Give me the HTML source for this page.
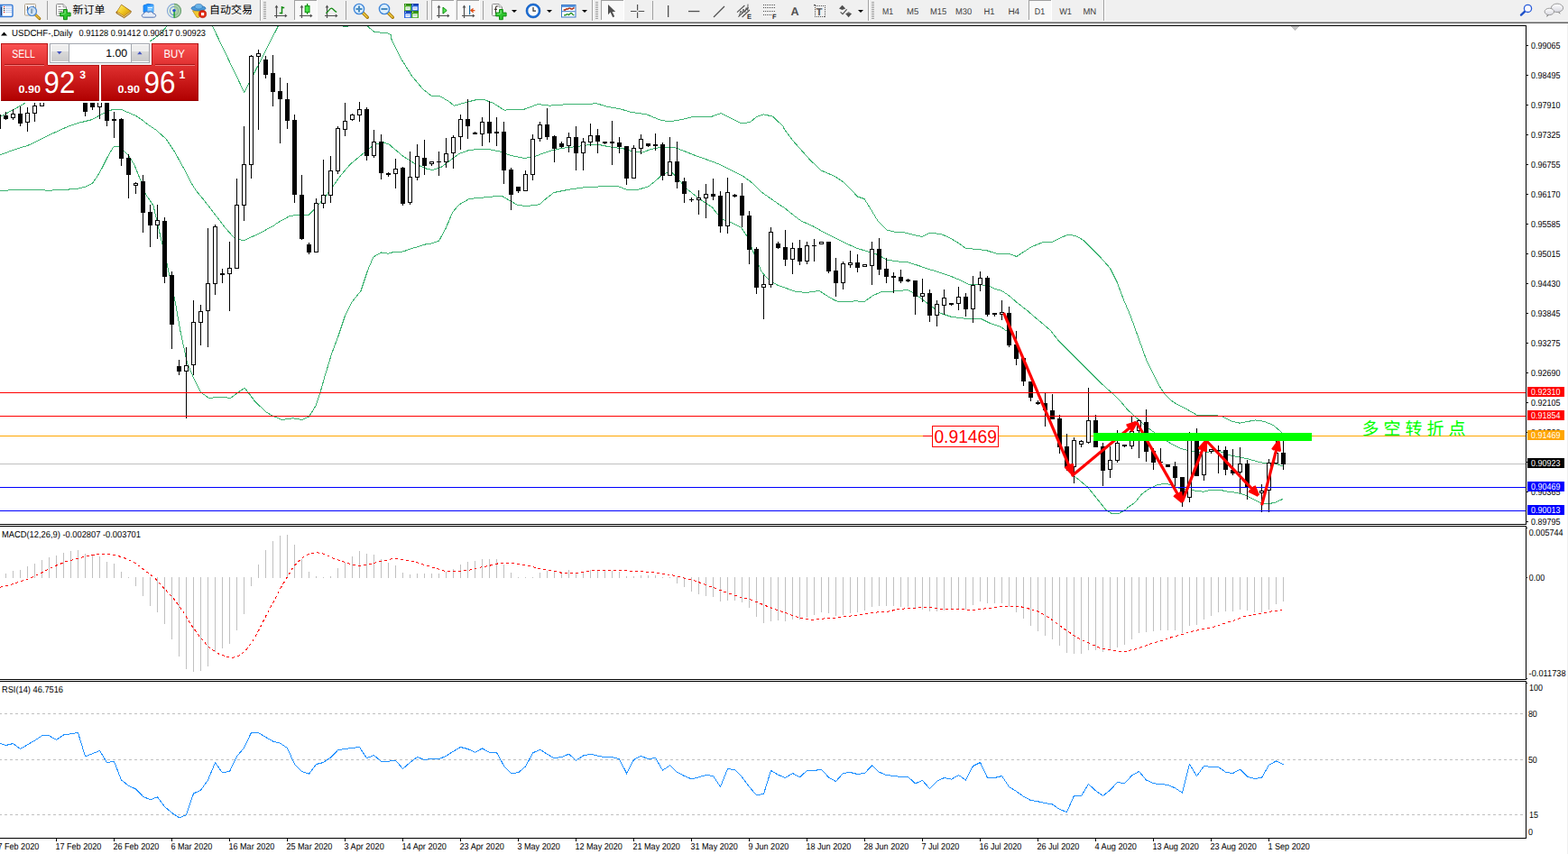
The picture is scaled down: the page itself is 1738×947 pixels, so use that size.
<!DOCTYPE html>
<html><head><meta charset="utf-8"><title>USDCHF-,Daily</title>
<style>
html,body{margin:0;padding:0;background:#fff;}
body{width:1738px;height:947px;overflow:hidden;position:relative;font-family:"Liberation Sans", sans-serif;}
svg{position:absolute;left:0;top:0;display:block}
text{font-family:"Liberation Sans", sans-serif;text-rendering:geometricPrecision;}
.t9{font-size:9px;fill:#000}
.tf{font-size:9.5px;fill:#404040}

</style></head><body>
<svg width="1738" height="947" viewBox="0 0 1738 947">
<defs>
<clipPath id="cm"><rect x="0" y="29" width="1691" height="552"/></clipPath>
<clipPath id="cmacd"><rect x="0" y="584" width="1691" height="169"/></clipPath>
<clipPath id="crsi"><rect x="0" y="756" width="1691" height="173"/></clipPath>
<linearGradient id="gred" x1="0" y1="0" x2="0" y2="1"><stop offset="0" stop-color="#fa5252"/><stop offset="0.38" stop-color="#e03030"/><stop offset="0.68" stop-color="#c81818"/><stop offset="1" stop-color="#b00000"/></linearGradient>
<linearGradient id="gbtn" x1="0" y1="0" x2="0" y2="1"><stop offset="0" stop-color="#dadada"/><stop offset="1" stop-color="#cacaca"/></linearGradient>
</defs>
<rect x="0" y="0" width="1738" height="947" fill="#fff"/>
<g id="toolbar" shape-rendering="crispEdges">
<rect x="0" y="0" width="1738" height="24" fill="#f0f0f0"/>
<rect x="0" y="23" width="1738" height="1" fill="#f6f6f6"/>
<rect x="0" y="24" width="1738" height="1" fill="#a0a0a0"/>
<rect x="0" y="25" width="1738" height="1" fill="#696969"/>
<rect x="0" y="26" width="1738" height="2" fill="#fff"/>
<rect x="1737" y="26" width="1" height="921" fill="#f0f0f0"/>
</g>
<g id="icons"><rect x="-1.5" y="5.5" width="15.5" height="13" rx="1.5" fill="#fff" stroke="#3a7cd6" stroke-width="1.5"/>
<rect x="0" y="6" width="2.6" height="12" fill="#4a86d8"/><rect x="1" y="8" width="1" height="9" fill="#223a70"/>
<rect x="4" y="7" width="1.2" height="1.2" fill="#e02020"/><rect x="6" y="7.3" width="7" height="0.8" fill="#a8c0f0"/>
<rect x="4" y="9" width="1.2" height="1.2" fill="#303830"/><rect x="6" y="9.3" width="7" height="0.8" fill="#a8c0f0"/>
<rect x="4" y="11" width="1.2" height="1.2" fill="#303830"/><rect x="6" y="11.3" width="7" height="0.8" fill="#a8c0f0"/>
<rect x="4" y="13" width="1.2" height="1.2" fill="#e02020"/><rect x="6" y="13.3" width="7" height="0.8" fill="#a8c0f0"/>
<rect x="27.5" y="4.5" width="12" height="12.5" rx="1" fill="#fbfbfb" stroke="#b0a088" stroke-width="1"/>
<path d="M30.5,7 v7 M29.5,11 h2 M37,6.5 v6 M36,8 h2" stroke="#505050" stroke-width="1" fill="none"/>
<line x1="39.5" y1="16.5" x2="43.8" y2="20.6" stroke="#a87808" stroke-width="3" stroke-linecap="round"/><line x1="39.8" y1="16.8" x2="43.5" y2="20.3" stroke="#e8c040" stroke-width="1.4" stroke-linecap="round"/>
<circle cx="35.5" cy="12.5" r="5" fill="#cfe4f8" fill-opacity="0.85" stroke="#4c8ad8" stroke-width="1.2"/>
<rect x="34" y="9.5" width="2.2" height="5.5" fill="#88a4c0"/>
<rect x="52" y="1" width="1" height="21" fill="#a0a0a0" shape-rendering="crispEdges"/>
<path d="M63.5,4.5 H70 L73.5,8 V17.5 H63.5 Q62.5,17.5 62.5,16.5 V5.5 Q62.5,4.5 63.5,4.5 Z" fill="#fff" stroke="#8a8a8a" stroke-width="1"/><path d="M70,4.5 V8 H73.5" fill="#e8e8e8" stroke="#8a8a8a" stroke-width="0.8"/>
<path d="M64.5,7.5 h3 M64.5,10.5 h6 M64.5,12.5 h5 M64.5,14.5 h3" stroke="#909090" stroke-width="1" fill="none"/>
<path d="M70.5,10.5 h3.8 v3.6 h3.8 v3.8 h-3.8 v3.8 h-3.8 v-3.8 h-3.8 v-3.8 h3.8 Z" fill="#2fc52f" stroke="#0f8a0f" stroke-width="1"/><path d="M71.5,11.5 h1.2 v3.8 h-1.2Z M67.80000000000001,15.1 h3.7 v1.0 h-3.7Z" fill="#8df08d" opacity="0.8"/>
<text x="80.4" y="15.4" font-size="12" fill="#000" textLength="36" lengthAdjust="spacingAndGlyphs" style="font-family:'Liberation Sans','Noto Sans CJK SC',sans-serif">新订单</text>
<defs><linearGradient id="gbook" x1="0" y1="0" x2="1" y2="1"><stop offset="0" stop-color="#fff27a"/><stop offset="0.5" stop-color="#f2c820"/><stop offset="1" stop-color="#c88c10"/></linearGradient></defs>
<path d="M134.6,5.2 L145.4,12.6 L144.6,14.6 L137.6,19.8 L129,14.6 C128.4,13.4 129.4,12.6 130.2,12.2 Z" fill="#b87a10" stroke="#8c5a08" stroke-width="0.8" stroke-linejoin="round"/>
<path d="M134.6,5.6 L144.6,12.6 L137.4,17.6 L130,12.8 Z" fill="url(#gbook)"/>
<path d="M130,14 L137.5,18.6 L144.6,13.6" fill="none" stroke="#f6e8b0" stroke-width="0.8"/>
<path d="M159,6 L164,4.3 L170,5.2 V13.5 H159 Z" fill="#1e90ff" stroke="#1878e0" stroke-width="0.8"/>
<path d="M163,7 L170,5.8 V13.5 H163 Z" fill="#5ab4ff"/><rect x="164" y="8" width="5" height="1.2" fill="#eaf6ff"/><rect x="164" y="10.4" width="4" height="1" fill="#d0e8ff"/>
<path d="M159.5,19.2 C156.5,19.2 156.5,15.4 159.6,15.2 C159.8,12.6 163.6,12.2 164.6,14 C166,12.2 169.4,12.8 169.6,15 C173.4,14.8 173.8,19.2 170.4,19.2 Z" fill="#e8eef8" stroke="#5070b0" stroke-width="1"/>
<circle cx="193" cy="12" r="7.6" fill="#dfeee0" stroke="none"/>
<path d="M193,12 L193,19.8 A7.8,7.8 0 0 0 193,4.2 Z" fill="#9cc8a0" opacity="0.8"/>
<path d="M193,4.4 A7.6,7.6 0 0 0 193,19.6" fill="none" stroke="#4a78d0" stroke-opacity="0.6" stroke-width="1.1"/><path d="M193,4.4 A7.6,7.6 0 0 1 193,19.6" fill="none" stroke="#6aa070" stroke-width="1.1"/>
<path d="M193,7.4 A4.6,4.6 0 0 0 193,16.6" fill="none" stroke="#4a78d0" stroke-opacity="0.75" stroke-width="1.1"/><path d="M193,7.4 A4.6,4.6 0 0 1 193,16.6" fill="none" stroke="#8ab890" stroke-width="1.1"/>
<rect x="192.4" y="12" width="1.4" height="7.6" fill="#18a028"/><circle cx="193" cy="11.6" r="1.7" fill="#2050d0"/>
<path d="M213.4,11.8 L226.2,11.8 L226,14 L220,19.6 L218,19 Z" fill="#f2c830" stroke="#c09018" stroke-width="0.8"/>
<ellipse cx="220" cy="9.2" rx="8" ry="2.7" fill="#4a9ad8" stroke="#2a6cb0" stroke-width="0.8"/><ellipse cx="220.2" cy="7.2" rx="4.2" ry="2.8" fill="#6ab4e8" stroke="#2a6cb0" stroke-width="0.6"/>
<circle cx="224.6" cy="15.6" r="4.1" fill="#e02810" stroke="#b01808" stroke-width="0.6"/><rect x="223" y="14" width="3.2" height="3.2" fill="#fff"/>
<text x="232" y="15.4" font-size="12" fill="#000" textLength="48" lengthAdjust="spacingAndGlyphs" style="font-family:'Liberation Sans','Noto Sans CJK SC',sans-serif">自动交易</text>
<rect x="288" y="0" width="1" height="23" fill="#a0a0a0" shape-rendering="crispEdges"/><rect x="289" y="0" width="1" height="23" fill="#fff" shape-rendering="crispEdges"/><rect x="292" y="2" width="3" height="1" fill="#a0a0a0" shape-rendering="crispEdges"/><rect x="292" y="4" width="3" height="1" fill="#a0a0a0" shape-rendering="crispEdges"/><rect x="292" y="6" width="3" height="1" fill="#a0a0a0" shape-rendering="crispEdges"/><rect x="292" y="8" width="3" height="1" fill="#a0a0a0" shape-rendering="crispEdges"/><rect x="292" y="10" width="3" height="1" fill="#a0a0a0" shape-rendering="crispEdges"/><rect x="292" y="12" width="3" height="1" fill="#a0a0a0" shape-rendering="crispEdges"/><rect x="292" y="14" width="3" height="1" fill="#a0a0a0" shape-rendering="crispEdges"/><rect x="292" y="16" width="3" height="1" fill="#a0a0a0" shape-rendering="crispEdges"/><rect x="292" y="18" width="3" height="1" fill="#a0a0a0" shape-rendering="crispEdges"/><rect x="292" y="20" width="3" height="1" fill="#a0a0a0" shape-rendering="crispEdges"/>
<g stroke="#505050" stroke-width="1.2" fill="none"><path d="M306.5,7 V20 M304,17.5 H317"/></g><polygon points="306.5,5.5 304.6,8.5 308.4,8.5" fill="#505050"/><polygon points="318.5,17.5 315.8,15.6 315.8,19.4" fill="#505050"/>
<path d="M312.5,7 V15.6 M312.5,8.4 H315.2 M312.5,14.6 H309.8" stroke="#128a12" stroke-width="1.5" fill="none"/>
<g shape-rendering="crispEdges"><rect x="326" y="0" width="25" height="22" fill="#f9f9f9"/><rect x="326" y="0" width="25" height="1" fill="#a0a0a0"/><rect x="326" y="0" width="1" height="22" fill="#a0a0a0"/><rect x="351" y="0" width="1" height="23" fill="#fff"/><rect x="326" y="22" width="26" height="1" fill="#fff"/></g>
<g stroke="#505050" stroke-width="1.2" fill="none"><path d="M334.5,7 V20 M332,17.5 H345"/></g><polygon points="334.5,5.5 332.6,8.5 336.4,8.5" fill="#505050"/><polygon points="346.5,17.5 343.8,15.6 343.8,19.4" fill="#505050"/>
<rect x="340" y="4" width="1.2" height="11.8" fill="#0c8c0c"/><rect x="338.2" y="6.6" width="4.8" height="7" fill="#48e448" stroke="#0c8c0c" stroke-width="1"/>
<g stroke="#505050" stroke-width="1.2" fill="none"><path d="M362.5,7 V20 M360,17.5 H373"/></g><polygon points="362.5,5.5 360.6,8.5 364.4,8.5" fill="#505050"/><polygon points="374.5,17.5 371.8,15.6 371.8,19.4" fill="#505050"/>
<path d="M361.4,14.6 C364,13 365.4,9.2 367.4,9.2 C369.4,9.2 370.4,12.6 373.2,13.4" stroke="#128a12" stroke-width="1.3" fill="none"/>
<rect x="383" y="1" width="1" height="21" fill="#a0a0a0" shape-rendering="crispEdges"/>
<line x1="402" y1="14" x2="407.3" y2="19.3" stroke="#a87808" stroke-width="3.4" stroke-linecap="round"/><line x1="402.3" y1="14.3" x2="407" y2="19" stroke="#f0cc40" stroke-width="1.6" stroke-linecap="round"/><circle cx="398" cy="10" r="5.6" fill="#dcefff" stroke="#3f86d8" stroke-width="1.4"/><rect x="394.5" y="9" width="7" height="2" fill="#4a8cc0"/><rect x="397" y="6.5" width="2" height="7" fill="#4a8cc0"/>
<line x1="430" y1="14" x2="435.3" y2="19.3" stroke="#a87808" stroke-width="3.4" stroke-linecap="round"/><line x1="430.3" y1="14.3" x2="435" y2="19" stroke="#f0cc40" stroke-width="1.6" stroke-linecap="round"/><circle cx="426" cy="10" r="5.6" fill="#dcefff" stroke="#3f86d8" stroke-width="1.4"/><rect x="422.5" y="9" width="7" height="2" fill="#4a8cc0"/>
<rect x="448" y="4" width="8" height="8" fill="#4cae24"/><rect x="448" y="4" width="8" height="2.2" fill="#2f8a10"/><rect x="449.4" y="7.4" width="5.2" height="3.8" fill="#f4f8ff"/><rect x="450.4" y="8.6" width="3.2" height="0.9" fill="#4cae24" opacity="0.6"/><rect x="449" y="4.8" width="1" height="1" fill="#dfe"/>
<rect x="456" y="4" width="8" height="8" fill="#2a64e0"/><rect x="456" y="4" width="8" height="2.2" fill="#1440b0"/><rect x="457.4" y="7.4" width="5.2" height="3.8" fill="#f4f8ff"/><rect x="458.4" y="8.6" width="3.2" height="0.9" fill="#2a64e0" opacity="0.6"/><rect x="457" y="4.8" width="1" height="1" fill="#dfe"/>
<rect x="448" y="12" width="8" height="8" fill="#2a64e0"/><rect x="448" y="12" width="8" height="2.2" fill="#1440b0"/><rect x="449.4" y="15.4" width="5.2" height="3.8" fill="#f4f8ff"/><rect x="450.4" y="16.6" width="3.2" height="0.9" fill="#2a64e0" opacity="0.6"/><rect x="449" y="12.8" width="1" height="1" fill="#dfe"/>
<rect x="456" y="12" width="8" height="8" fill="#4cae24"/><rect x="456" y="12" width="8" height="2.2" fill="#2f8a10"/><rect x="457.4" y="15.4" width="5.2" height="3.8" fill="#f4f8ff"/><rect x="458.4" y="16.6" width="3.2" height="0.9" fill="#4cae24" opacity="0.6"/><rect x="457" y="12.8" width="1" height="1" fill="#dfe"/>
<rect x="473" y="1" width="1" height="21" fill="#a0a0a0" shape-rendering="crispEdges"/>
<g shape-rendering="crispEdges"><rect x="478" y="0" width="25" height="22" fill="#f9f9f9"/><rect x="478" y="0" width="25" height="1" fill="#a0a0a0"/><rect x="478" y="0" width="1" height="22" fill="#a0a0a0"/><rect x="503" y="0" width="1" height="23" fill="#fff"/><rect x="478" y="22" width="26" height="1" fill="#fff"/></g>
<g stroke="#505050" stroke-width="1.2" fill="none"><path d="M486.5,7 V20 M484,17.5 H497"/></g><polygon points="486.5,5.5 484.6,8.5 488.4,8.5" fill="#505050"/><polygon points="498.5,17.5 495.8,15.6 495.8,19.4" fill="#505050"/>
<polygon points="491,8 495.2,11.6 491,15.2" fill="#58e858" stroke="#0c8c0c" stroke-width="1" stroke-linejoin="round"/>
<g shape-rendering="crispEdges"><rect x="506" y="0" width="25" height="22" fill="#f9f9f9"/><rect x="506" y="0" width="25" height="1" fill="#a0a0a0"/><rect x="506" y="0" width="1" height="22" fill="#a0a0a0"/><rect x="531" y="0" width="1" height="23" fill="#fff"/><rect x="506" y="22" width="26" height="1" fill="#fff"/></g>
<g stroke="#505050" stroke-width="1.2" fill="none"><path d="M514.5,7 V20 M512,17.5 H525"/></g><polygon points="514.5,5.5 512.6,8.5 516.4,8.5" fill="#505050"/><polygon points="526.5,17.5 523.8,15.6 523.8,19.4" fill="#505050"/>
<rect x="520" y="6" width="1.2" height="10.2" fill="#1a6aa0"/><path d="M526.4,11.6 H522 M524.6,9.4 L522,11.6 L524.6,13.8" stroke="#e04a10" stroke-width="1.3" fill="none"/>
<rect x="535" y="1" width="1" height="21" fill="#a0a0a0" shape-rendering="crispEdges"/>
<path d="M546.5,4.5 H553 L556.5,8 V17.5 H546.5 Q545.5,17.5 545.5,16.5 V5.5 Q545.5,4.5 546.5,4.5 Z" fill="#fff" stroke="#8a8a8a" stroke-width="1"/><path d="M553,4.5 V8 H556.5" fill="#e8e8e8" stroke="#8a8a8a" stroke-width="0.8"/>
<path d="M551.8,7 C549.6,6.4 549.4,8 549.4,9.6 V15 M548,10.4 H551" stroke="#403830" stroke-width="1.1" fill="none"/>
<path d="M553.5,10.5 h3.8 v3.6 h3.8 v3.8 h-3.8 v3.8 h-3.8 v-3.8 h-3.8 v-3.8 h3.8 Z" fill="#2fc52f" stroke="#0f8a0f" stroke-width="1"/><path d="M554.5,11.5 h1.2 v3.8 h-1.2Z M550.8,15.1 h3.7 v1.0 h-3.7Z" fill="#8df08d" opacity="0.8"/>
<polygon points="567,11 573,11 570,14" fill="#000"/>
<circle cx="591" cy="12" r="6.9" fill="#fdfdfd" stroke="#1a6cd4" stroke-width="2.3"/>
<circle cx="591" cy="12" r="8" fill="none" stroke="#0c4ca8" stroke-width="0.5"/>
<path d="M591,8 V12.2 H594" stroke="#303030" stroke-width="1.2" fill="none"/>
<path d="M591,6.4 v0.8 M591,17 v0.8 M585.6,12 h0.8 M596,12 h0.8" stroke="#8aa" stroke-width="0.8"/>
<polygon points="606,11 612,11 609,14" fill="#000"/>
<rect x="622.5" y="5.5" width="15.5" height="13.5" fill="#fff" stroke="#3a78c8" stroke-width="1"/><rect x="623" y="6" width="14.5" height="2" fill="#5a98e0"/><rect x="623" y="12.2" width="14.5" height="1" fill="#3a78c8"/>
<path d="M624.6,11 H626.6 L627.6,10 H629.6 L630.6,9.2 H632 L633,10 H634.6 L635.6,9 H636.6" stroke="#a42408" stroke-width="1.3" fill="none"/>
<path d="M625,16.8 H627 L628,15.8 H629.6 L630.4,16.6 L632.6,14.6 H633.6 L635.4,16.6 H636.4" stroke="#188a18" stroke-width="1.3" fill="none"/>
<polygon points="645,11 651,11 648,14" fill="#000"/>
<rect x="656" y="0" width="1" height="23" fill="#a0a0a0" shape-rendering="crispEdges"/><rect x="657" y="0" width="1" height="23" fill="#fff" shape-rendering="crispEdges"/><rect x="660" y="2" width="3" height="1" fill="#a0a0a0" shape-rendering="crispEdges"/><rect x="660" y="4" width="3" height="1" fill="#a0a0a0" shape-rendering="crispEdges"/><rect x="660" y="6" width="3" height="1" fill="#a0a0a0" shape-rendering="crispEdges"/><rect x="660" y="8" width="3" height="1" fill="#a0a0a0" shape-rendering="crispEdges"/><rect x="660" y="10" width="3" height="1" fill="#a0a0a0" shape-rendering="crispEdges"/><rect x="660" y="12" width="3" height="1" fill="#a0a0a0" shape-rendering="crispEdges"/><rect x="660" y="14" width="3" height="1" fill="#a0a0a0" shape-rendering="crispEdges"/><rect x="660" y="16" width="3" height="1" fill="#a0a0a0" shape-rendering="crispEdges"/><rect x="660" y="18" width="3" height="1" fill="#a0a0a0" shape-rendering="crispEdges"/><rect x="660" y="20" width="3" height="1" fill="#a0a0a0" shape-rendering="crispEdges"/>
<g shape-rendering="crispEdges"><rect x="666" y="0" width="25" height="22" fill="#f9f9f9"/><rect x="666" y="0" width="25" height="1" fill="#a0a0a0"/><rect x="666" y="0" width="1" height="22" fill="#a0a0a0"/><rect x="691" y="0" width="1" height="23" fill="#fff"/><rect x="666" y="22" width="26" height="1" fill="#fff"/></g>
<polygon points="674,5 674,16.2 676.6,13.6 679.2,19.2 681.2,18.2 678.6,13 682.2,13" fill="#505050"/>
<path d="M699,12.5 H705.6 M707.6,12.5 H714.2 M706.6,5 V11.4 M706.6,13.6 V20" stroke="#505050" stroke-width="1.2" fill="none"/>
<rect x="723" y="1" width="1" height="21" fill="#a0a0a0" shape-rendering="crispEdges"/>
<rect x="740" y="6" width="1.3" height="13" fill="#505050"/>
<rect x="763" y="11.9" width="12.4" height="1.3" fill="#505050"/>
<line x1="791" y1="19" x2="803" y2="7" stroke="#505050" stroke-width="1.2"/>
<path d="M817,13.6 L825.4,6 M818.4,18.6 L829.6,8.4 M822.6,19 L831,11" stroke="#505050" stroke-width="1.1" fill="none"/>
<path d="M819.6,17 L821,12 L822.6,15 L824,10 L825.8,13.6 L827.2,8.6 L828.8,11.6 L829,4.6" stroke="#505050" stroke-width="0.9" fill="none"/>
<text x="828" y="21" font-size="7.5" font-weight="bold" fill="#303030">E</text>
<line x1="846" y1="5.5" x2="860" y2="5.5" stroke="#505050" stroke-width="1" stroke-dasharray="1 1" shape-rendering="crispEdges"/>
<line x1="846" y1="8.5" x2="860" y2="8.5" stroke="#505050" stroke-width="1" stroke-dasharray="1 1" shape-rendering="crispEdges"/>
<line x1="846" y1="12.5" x2="860" y2="12.5" stroke="#505050" stroke-width="1" stroke-dasharray="1 1" shape-rendering="crispEdges"/>
<line x1="846" y1="16.5" x2="856" y2="16.5" stroke="#505050" stroke-width="1" stroke-dasharray="1 1" shape-rendering="crispEdges"/>
<text x="856" y="21" font-size="7.5" font-weight="bold" fill="#303030">F</text>
<text x="876.4" y="17.2" font-size="12.6" font-weight="bold" fill="#505050">A</text>
<rect x="903.5" y="6.5" width="11" height="12" fill="none" stroke="#505050" stroke-width="1" stroke-dasharray="1 1" shape-rendering="crispEdges"/><rect x="902" y="5" width="2" height="1.4" fill="#505050"/>
<text x="904.6" y="16.8" font-size="11.4" font-weight="bold" fill="#505050">T</text>
<polygon points="930,9.4 933.6,5.8 937.2,9.4 933.6,11" fill="#505050"/><polygon points="937,15 944.2,15 940.6,19.2" fill="#505050"/><polygon points="937.6,14.8 940.6,13.2 943.6,14.8" fill="#505050"/>
<path d="M931.6,13.4 L934,15.6 L938.6,10.4" stroke="#505050" stroke-width="1.2" fill="none"/>
<polygon points="951,11 957,11 954,14" fill="#000"/>
<rect x="962" y="0" width="1" height="23" fill="#a0a0a0" shape-rendering="crispEdges"/><rect x="963" y="0" width="1" height="23" fill="#fff" shape-rendering="crispEdges"/><rect x="966" y="2" width="3" height="1" fill="#a0a0a0" shape-rendering="crispEdges"/><rect x="966" y="4" width="3" height="1" fill="#a0a0a0" shape-rendering="crispEdges"/><rect x="966" y="6" width="3" height="1" fill="#a0a0a0" shape-rendering="crispEdges"/><rect x="966" y="8" width="3" height="1" fill="#a0a0a0" shape-rendering="crispEdges"/><rect x="966" y="10" width="3" height="1" fill="#a0a0a0" shape-rendering="crispEdges"/><rect x="966" y="12" width="3" height="1" fill="#a0a0a0" shape-rendering="crispEdges"/><rect x="966" y="14" width="3" height="1" fill="#a0a0a0" shape-rendering="crispEdges"/><rect x="966" y="16" width="3" height="1" fill="#a0a0a0" shape-rendering="crispEdges"/><rect x="966" y="18" width="3" height="1" fill="#a0a0a0" shape-rendering="crispEdges"/><rect x="966" y="20" width="3" height="1" fill="#a0a0a0" shape-rendering="crispEdges"/>
<g shape-rendering="crispEdges"><rect x="1140" y="0" width="25" height="22" fill="#f9f9f9"/><rect x="1140" y="0" width="25" height="1" fill="#a0a0a0"/><rect x="1140" y="0" width="1" height="22" fill="#a0a0a0"/><rect x="1165" y="0" width="1" height="23" fill="#fff"/><rect x="1140" y="22" width="26" height="1" fill="#fff"/></g>
<text x="978" y="16" font-size="9.8" fill="#404040" textLength="12.2" lengthAdjust="spacingAndGlyphs">M1</text>
<text x="1005" y="16" font-size="9.8" fill="#404040" textLength="13.2" lengthAdjust="spacingAndGlyphs">M5</text>
<text x="1031" y="16" font-size="9.8" fill="#404040" textLength="18.2" lengthAdjust="spacingAndGlyphs">M15</text>
<text x="1059" y="16" font-size="9.8" fill="#404040" textLength="18.2" lengthAdjust="spacingAndGlyphs">M30</text>
<text x="1090.4" y="16" font-size="9.8" fill="#404040" textLength="12" lengthAdjust="spacingAndGlyphs">H1</text>
<text x="1117.4" y="16" font-size="9.8" fill="#404040" textLength="12.8" lengthAdjust="spacingAndGlyphs">H4</text>
<text x="1146.8" y="16" font-size="9.8" fill="#404040" textLength="11.4" lengthAdjust="spacingAndGlyphs">D1</text>
<text x="1174.2" y="16" font-size="9.8" fill="#404040" textLength="13.8" lengthAdjust="spacingAndGlyphs">W1</text>
<text x="1200.4" y="16" font-size="9.8" fill="#404040" textLength="14.8" lengthAdjust="spacingAndGlyphs">MN</text>
<rect x="1223" y="0" width="1" height="23" fill="#a0a0a0" shape-rendering="crispEdges"/><rect x="1224" y="0" width="1" height="23" fill="#fff" shape-rendering="crispEdges"/>
<line x1="1686" y1="16.6" x2="1690" y2="12.8" stroke="#1e50c8" stroke-width="2.4" stroke-linecap="round"/><circle cx="1693.5" cy="9.4" r="4.1" fill="#f8f8ff" stroke="#2a5cd8" stroke-width="1.3"/>
<defs><linearGradient id="gbub" x1="0" y1="0" x2="0" y2="1"><stop offset="0" stop-color="#ffffff"/><stop offset="1" stop-color="#d8d8e0"/></linearGradient></defs>
<path d="M1728.6,13.4 L1729.8,15.8 L1726.6,13.6 Z" fill="#707070"/><ellipse cx="1726" cy="8.8" rx="6.6" ry="4.7" fill="url(#gbub)" stroke="#8e8e8e" stroke-width="0.9"/>
<path d="M1714.8,16.4 L1714.2,18.9 L1717,16.6 Z" fill="#707070"/><ellipse cx="1717.3" cy="12.9" rx="5.2" ry="3.7" fill="url(#gbub)" stroke="#8e8e8e" stroke-width="0.9"/></g>
<g id="main" shape-rendering="crispEdges">
<rect x="0" y="483" width="1691" height="1" fill="#ffa500"/>
<rect x="0" y="514" width="1691" height="1" fill="#c0c0c0"/>
<g clip-path="url(#cm)">
<polyline points="0.0,129.4 5.0,126.9 13.0,122.5 20.0,118.8 26.9,114.8 60.0,96.0 100.0,78.0 140.0,60.0 166.0,46.0 176.0,39.2 186.0,28.0 196.0,10.0 215.0,5.0 235.0,28.0 270.8,102.5 308.8,28.0 330.0,5.0 370.0,20.0 380.0,29.0 386.0,29.0 396.0,20.0 407.5,29.2 415.0,35.5 430.0,36.8 433.8,39.2 434.0,43.5 444.0,64.2 456.5,84.2 469.0,99.2 479.0,106.8 487.8,106.8 496.5,111.8 503.5,117.2 514.0,114.2 526.5,111.0 536.5,110.5 546.5,114.2 559.0,122.2 569.0,121.0 581.5,121.0 596.5,115.5 609.0,117.2 624.0,116.0 646.5,115.5 661.5,114.8 674.0,118.5 686.5,120.5 699.0,124.2 716.5,126.8 731.5,133.0 741.5,134.8 756.5,132.5 769.0,129.2 789.0,129.2 799.0,125.5 809.0,130.5 821.5,136.8 831.5,135.5 839.0,129.2 846.5,126.8 856.5,129.2 868.5,140.5 868.0,141.2 878.0,155.0 888.0,166.2 898.0,177.5 910.5,189.2 925.5,195.5 935.5,202.5 943.0,210.0 950.5,218.0 958.0,220.5 965.5,232.5 973.0,245.0 983.0,255.0 993.0,257.5 1003.0,258.0 1013.0,260.5 1021.8,262.5 1030.5,258.2 1043.0,259.5 1053.0,263.8 1063.0,270.0 1070.5,275.5 1080.5,276.2 1093.0,277.5 1103.0,280.8 1110.5,282.0 1118.0,281.2 1126.8,284.5 1135.5,278.8 1143.0,273.8 1155.5,268.8 1166.8,268.2 1175.5,263.8 1183.0,260.5 1191.8,261.2 1200.5,266.2 1210.5,276.2 1220.5,286.2 1230.5,297.5 1238.0,312.5 1245.5,332.5 1253.0,350.0 1271.0,400.0 1278.7,415.3 1285.4,428.7 1291.1,437.3 1297.8,444.0 1305.4,448.8 1315.0,453.5 1326.5,460.2 1346.6,460.2 1355.2,462.1 1364.7,466.9 1374.3,469.2 1383.8,467.3 1391.5,466.0 1401.1,467.3 1410.6,471.1 1418.3,477.4 1422.1,481.3" fill="none" stroke="#3cb371" stroke-width="1"/>
<polyline points="0.0,171.9 15.0,166.2 31.2,161.2 43.8,155.0 53.8,150.0 66.2,144.4 77.5,139.4 87.5,136.2 95.0,134.4 102.5,132.5 110.0,128.1 116.2,125.0 122.5,122.2 127.5,121.2 135.0,121.5 141.2,124.4 150.0,128.1 157.5,133.1 165.0,138.8 172.5,143.8 178.8,149.4 183.8,153.8 188.8,161.2 193.8,168.8 200.0,180.0 206.2,191.2 212.5,203.8 217.2,211.2 225.0,220.5 250.0,253.0 260.0,264.2 270.0,266.8 287.5,258.8 303.8,250.0 306.9,247.5 320.4,239.9 328.9,238.2 342.4,238.2 349.2,231.4 361.0,217.9 369.4,206.0 377.9,194.2 388.0,182.4 398.2,173.9 408.3,165.5 415.0,160.4 425.2,157.9 432.0,160.4 434.0,162.5 446.5,173.0 459.0,181.0 471.5,186.8 479.0,188.5 489.0,185.5 499.0,178.0 509.0,170.5 519.0,166.8 529.0,165.5 541.5,165.5 554.0,168.0 566.5,172.5 581.5,175.5 594.0,173.0 609.0,167.5 624.0,164.2 639.0,162.5 654.0,160.5 664.0,160.5 676.5,163.0 691.5,165.0 701.5,168.0 711.5,169.2 721.5,165.5 734.0,163.0 746.5,163.0 756.5,166.8 769.0,171.8 784.0,177.2 796.5,181.8 809.0,188.0 824.0,195.5 834.0,203.0 844.0,213.0 856.5,221.8 868.5,230.0 868.0,229.2 878.0,237.5 888.0,245.0 900.5,250.5 913.0,257.5 925.5,263.8 938.0,270.0 950.5,275.5 963.0,279.2 973.0,282.5 983.0,288.0 995.5,290.0 1005.5,290.5 1018.0,294.5 1030.5,298.8 1043.0,302.5 1055.5,307.0 1065.5,311.2 1073.0,315.0 1085.5,315.5 1095.5,316.8 1103.0,320.5 1110.5,322.5 1118.0,327.5 1128.0,336.2 1138.0,343.8 1148.0,352.5 1155.5,358.8 1164.2,366.2 1173.0,377.5 1185.5,390.0 1198.0,402.5 1210.5,415.0 1220.5,425.0 1233.0,436.2 1243.0,446.2 1250.0,454.5 1261.5,465.0 1271.0,473.6 1280.6,480.3 1297.8,491.8 1309.3,497.5 1316.0,499.4 1336.0,502.3 1341.8,500.4 1351.3,500.4 1364.7,505.2 1383.8,509.0 1397.2,512.8 1406.8,513.8 1414.4,514.3 1422.1,517.0" fill="none" stroke="#3cb371" stroke-width="1"/>
<polyline points="0.0,211.9 18.8,210.0 37.5,210.0 52.5,211.2 70.0,210.6 87.5,209.0 95.0,206.9 102.5,203.1 107.5,196.2 112.5,187.5 118.8,175.0 123.8,166.2 126.2,162.5 131.2,162.1 136.2,166.2 142.5,172.5 148.8,182.5 153.8,195.0 157.5,203.8 161.2,215.0 170.0,228.0 175.0,250.0 185.0,292.5 193.8,332.5 200.0,367.5 207.5,402.5 215.0,420.0 222.5,435.0 231.2,441.2 250.0,440.5 255.0,441.8 262.5,436.2 271.2,430.0 275.0,435.0 282.5,445.0 295.0,457.0 302.5,461.2 312.5,465.5 325.0,463.8 335.0,465.5 342.5,462.0 350.0,450.0 355.0,435.0 360.0,417.5 367.5,392.5 375.0,372.5 382.5,350.0 390.0,335.0 400.0,322.5 407.5,300.0 413.8,285.0 422.5,280.0 430.0,281.2 434.5,280.0 446.5,279.0 459.0,274.8 471.5,271.0 479.0,269.8 486.5,267.2 494.0,253.5 499.5,241.0 494.0,253.0 501.5,235.5 509.0,226.8 520.2,220.5 534.0,219.2 546.5,218.0 556.5,217.5 564.0,221.8 574.0,227.5 584.0,228.5 597.8,226.8 606.5,219.2 614.0,213.5 629.0,210.5 646.5,208.0 666.5,206.8 684.0,206.2 695.2,210.5 706.5,210.5 719.0,206.8 726.5,200.5 732.8,195.0 739.5,191.2 744.5,191.2 749.5,196.2 762.0,210.0 774.5,220.0 789.5,230.0 794.0,236.0 801.5,243.5 811.5,247.2 821.5,252.2 829.0,263.5 836.5,283.5 844.0,301.0 851.5,309.8 861.5,316.0 868.5,318.5 880.5,323.0 893.0,324.5 908.0,322.5 918.0,328.8 926.8,333.8 935.5,335.0 948.0,333.8 958.0,334.5 968.0,327.5 978.0,323.2 988.0,323.2 998.0,322.5 1005.5,321.2 1013.0,325.0 1023.0,332.5 1033.0,340.0 1043.0,347.5 1054.2,351.2 1068.0,353.0 1088.0,353.8 1098.0,358.8 1109.2,362.5 1116.5,367.5 1121.5,368.5 1140.0,411.5 1160.0,458.2 1180.0,505.0 1187.5,522.5 1190.8,528.0 1205.5,540.0 1215.5,552.5 1225.5,565.0 1233.0,570.0 1240.5,569.2 1248.0,565.0 1250.0,562.5 1257.6,557.7 1265.3,548.2 1272.9,542.4 1282.5,537.7 1292.1,536.1 1299.7,538.6 1307.4,541.5 1315.0,542.4 1326.5,544.4 1334.1,545.3 1341.8,543.4 1351.3,543.0 1360.9,545.3 1370.5,546.3 1380.0,548.8 1387.7,553.0 1397.2,557.7 1406.8,558.7 1414.4,556.8 1422.1,553.3" fill="none" stroke="#3cb371" stroke-width="1"/>
<g fill="#000">
<rect x="-4" y="127" width="5" height="16"/>
<rect x="6" y="124" width="1" height="9"/>
<rect x="4" y="128" width="5" height="4"/>
<rect x="14" y="121" width="1" height="12"/>
<rect x="12" y="126" width="5" height="5"/>
<rect x="13" y="127" width="3" height="3" fill="#fff"/>
<rect x="22" y="118" width="1" height="22"/>
<rect x="20" y="126" width="5" height="11"/>
<rect x="30" y="119" width="1" height="27"/>
<rect x="28" y="125" width="5" height="11"/>
<rect x="29" y="126" width="3" height="9" fill="#fff"/>
<rect x="38" y="114" width="1" height="21"/>
<rect x="36" y="117" width="5" height="9"/>
<rect x="37" y="118" width="3" height="7" fill="#fff"/>
<rect x="46" y="106" width="1" height="12"/>
<rect x="44" y="107" width="5" height="11"/>
<rect x="45" y="108" width="3" height="9" fill="#fff"/>
<rect x="54" y="96" width="1" height="16"/>
<rect x="52" y="99" width="5" height="9"/>
<rect x="53" y="100" width="3" height="7" fill="#fff"/>
<rect x="62" y="94" width="1" height="16"/>
<rect x="60" y="97" width="5" height="9"/>
<rect x="61" y="98" width="3" height="7" fill="#fff"/>
<rect x="70" y="92" width="1" height="17"/>
<rect x="68" y="95" width="5" height="9"/>
<rect x="69" y="96" width="3" height="7" fill="#fff"/>
<rect x="78" y="90" width="1" height="18"/>
<rect x="76" y="94" width="5" height="9"/>
<rect x="77" y="95" width="3" height="7" fill="#fff"/>
<rect x="86" y="92" width="1" height="18"/>
<rect x="84" y="95" width="5" height="11"/>
<rect x="85" y="96" width="3" height="9" fill="#fff"/>
<rect x="94" y="104" width="1" height="25"/>
<rect x="92" y="105" width="5" height="19"/>
<rect x="102" y="104" width="1" height="18"/>
<rect x="100" y="105" width="5" height="14"/>
<rect x="110" y="104" width="1" height="28"/>
<rect x="108" y="104" width="5" height="15"/>
<rect x="109" y="105" width="3" height="13" fill="#fff"/>
<rect x="118" y="104" width="1" height="36"/>
<rect x="116" y="105" width="5" height="29"/>
<rect x="126" y="124" width="1" height="29"/>
<rect x="124" y="132" width="5" height="2"/>
<rect x="134" y="131" width="1" height="53"/>
<rect x="132" y="132" width="5" height="44"/>
<rect x="142" y="171" width="1" height="49"/>
<rect x="140" y="175" width="5" height="19"/>
<rect x="150" y="202" width="1" height="13"/>
<rect x="148" y="203" width="5" height="3"/>
<rect x="149" y="204" width="3" height="1" fill="#fff"/>
<rect x="158" y="194" width="1" height="64"/>
<rect x="156" y="201" width="5" height="35"/>
<rect x="166" y="227" width="1" height="47"/>
<rect x="164" y="235" width="5" height="15"/>
<rect x="174" y="227" width="1" height="38"/>
<rect x="172" y="244" width="5" height="6"/>
<rect x="173" y="245" width="3" height="4" fill="#fff"/>
<rect x="182" y="241" width="1" height="73"/>
<rect x="180" y="245" width="5" height="62"/>
<rect x="190" y="301" width="1" height="86"/>
<rect x="188" y="305" width="5" height="55"/>
<rect x="198" y="399" width="1" height="17"/>
<rect x="196" y="406" width="5" height="6"/>
<rect x="206" y="385" width="1" height="79"/>
<rect x="204" y="405" width="5" height="7"/>
<rect x="205" y="406" width="3" height="5" fill="#fff"/>
<rect x="214" y="333" width="1" height="83"/>
<rect x="212" y="357" width="5" height="48"/>
<rect x="213" y="358" width="3" height="46" fill="#fff"/>
<rect x="222" y="338" width="1" height="45"/>
<rect x="220" y="345" width="5" height="13"/>
<rect x="221" y="346" width="3" height="11" fill="#fff"/>
<rect x="230" y="253" width="1" height="132"/>
<rect x="228" y="314" width="5" height="31"/>
<rect x="229" y="315" width="3" height="29" fill="#fff"/>
<rect x="238" y="249" width="1" height="78"/>
<rect x="236" y="251" width="5" height="64"/>
<rect x="237" y="252" width="3" height="62" fill="#fff"/>
<rect x="246" y="298" width="1" height="16"/>
<rect x="244" y="303" width="5" height="2"/>
<rect x="254" y="268" width="1" height="77"/>
<rect x="252" y="297" width="5" height="7"/>
<rect x="253" y="298" width="3" height="5" fill="#fff"/>
<rect x="262" y="198" width="1" height="100"/>
<rect x="260" y="227" width="5" height="71"/>
<rect x="261" y="228" width="3" height="69" fill="#fff"/>
<rect x="270" y="140" width="1" height="105"/>
<rect x="268" y="182" width="5" height="46"/>
<rect x="269" y="183" width="3" height="44" fill="#fff"/>
<rect x="278" y="61" width="1" height="137"/>
<rect x="276" y="62" width="5" height="121"/>
<rect x="277" y="63" width="3" height="119" fill="#fff"/>
<rect x="286" y="55" width="1" height="89"/>
<rect x="284" y="59" width="5" height="4"/>
<rect x="285" y="60" width="3" height="2" fill="#fff"/>
<rect x="294" y="62" width="1" height="25"/>
<rect x="292" y="66" width="5" height="17"/>
<rect x="302" y="61" width="1" height="57"/>
<rect x="300" y="81" width="5" height="21"/>
<rect x="310" y="86" width="1" height="73"/>
<rect x="308" y="101" width="5" height="9"/>
<rect x="318" y="92" width="1" height="51"/>
<rect x="316" y="110" width="5" height="24"/>
<rect x="326" y="127" width="1" height="98"/>
<rect x="324" y="133" width="5" height="83"/>
<rect x="334" y="194" width="1" height="72"/>
<rect x="332" y="216" width="5" height="49"/>
<rect x="342" y="269" width="1" height="13"/>
<rect x="340" y="271" width="5" height="9"/>
<rect x="350" y="220" width="1" height="60"/>
<rect x="348" y="225" width="5" height="55"/>
<rect x="349" y="226" width="3" height="53" fill="#fff"/>
<rect x="358" y="177" width="1" height="54"/>
<rect x="356" y="216" width="5" height="10"/>
<rect x="357" y="217" width="3" height="8" fill="#fff"/>
<rect x="366" y="173" width="1" height="52"/>
<rect x="364" y="189" width="5" height="28"/>
<rect x="365" y="190" width="3" height="26" fill="#fff"/>
<rect x="374" y="140" width="1" height="53"/>
<rect x="372" y="142" width="5" height="48"/>
<rect x="373" y="143" width="3" height="46" fill="#fff"/>
<rect x="382" y="114" width="1" height="37"/>
<rect x="380" y="134" width="5" height="10"/>
<rect x="381" y="135" width="3" height="8" fill="#fff"/>
<rect x="390" y="126" width="1" height="8"/>
<rect x="388" y="127" width="5" height="6"/>
<rect x="389" y="128" width="3" height="4" fill="#fff"/>
<rect x="398" y="113" width="1" height="22"/>
<rect x="396" y="121" width="5" height="7"/>
<rect x="397" y="122" width="3" height="5" fill="#fff"/>
<rect x="406" y="119" width="1" height="59"/>
<rect x="404" y="121" width="5" height="52"/>
<rect x="414" y="144" width="1" height="31"/>
<rect x="412" y="157" width="5" height="16"/>
<rect x="413" y="158" width="3" height="14" fill="#fff"/>
<rect x="422" y="149" width="1" height="50"/>
<rect x="420" y="157" width="5" height="35"/>
<rect x="430" y="191" width="1" height="5"/>
<rect x="428" y="192" width="5" height="2"/>
<rect x="438" y="176" width="1" height="33"/>
<rect x="436" y="187" width="5" height="6"/>
<rect x="437" y="188" width="3" height="4" fill="#fff"/>
<rect x="446" y="185" width="1" height="43"/>
<rect x="444" y="186" width="5" height="40"/>
<rect x="454" y="168" width="1" height="59"/>
<rect x="452" y="196" width="5" height="29"/>
<rect x="453" y="197" width="3" height="27" fill="#fff"/>
<rect x="462" y="160" width="1" height="40"/>
<rect x="460" y="173" width="5" height="24"/>
<rect x="461" y="174" width="3" height="22" fill="#fff"/>
<rect x="470" y="155" width="1" height="39"/>
<rect x="468" y="175" width="5" height="9"/>
<rect x="478" y="179" width="1" height="5"/>
<rect x="476" y="179" width="5" height="3"/>
<rect x="477" y="180" width="3" height="1" fill="#fff"/>
<rect x="486" y="168" width="1" height="27"/>
<rect x="484" y="179" width="5" height="1"/>
<rect x="494" y="153" width="1" height="33"/>
<rect x="492" y="170" width="5" height="10"/>
<rect x="493" y="171" width="3" height="8" fill="#fff"/>
<rect x="502" y="150" width="1" height="37"/>
<rect x="500" y="152" width="5" height="18"/>
<rect x="501" y="153" width="3" height="16" fill="#fff"/>
<rect x="510" y="127" width="1" height="39"/>
<rect x="508" y="132" width="5" height="20"/>
<rect x="509" y="133" width="3" height="18" fill="#fff"/>
<rect x="518" y="110" width="1" height="44"/>
<rect x="516" y="132" width="5" height="8"/>
<rect x="526" y="146" width="1" height="3"/>
<rect x="524" y="147" width="5" height="2"/>
<rect x="534" y="130" width="1" height="32"/>
<rect x="532" y="135" width="5" height="14"/>
<rect x="533" y="136" width="3" height="12" fill="#fff"/>
<rect x="542" y="112" width="1" height="46"/>
<rect x="540" y="135" width="5" height="13"/>
<rect x="550" y="130" width="1" height="32"/>
<rect x="548" y="146" width="5" height="2"/>
<rect x="558" y="135" width="1" height="69"/>
<rect x="556" y="146" width="5" height="43"/>
<rect x="566" y="186" width="1" height="47"/>
<rect x="564" y="188" width="5" height="28"/>
<rect x="574" y="207" width="1" height="7"/>
<rect x="572" y="207" width="5" height="5"/>
<rect x="582" y="189" width="1" height="23"/>
<rect x="580" y="193" width="5" height="19"/>
<rect x="581" y="194" width="3" height="17" fill="#fff"/>
<rect x="590" y="149" width="1" height="51"/>
<rect x="588" y="154" width="5" height="40"/>
<rect x="589" y="155" width="3" height="38" fill="#fff"/>
<rect x="598" y="135" width="1" height="22"/>
<rect x="596" y="138" width="5" height="16"/>
<rect x="597" y="139" width="3" height="14" fill="#fff"/>
<rect x="606" y="120" width="1" height="35"/>
<rect x="604" y="138" width="5" height="14"/>
<rect x="614" y="150" width="1" height="30"/>
<rect x="612" y="151" width="5" height="14"/>
<rect x="622" y="157" width="1" height="7"/>
<rect x="620" y="159" width="5" height="4"/>
<rect x="630" y="147" width="1" height="22"/>
<rect x="628" y="152" width="5" height="10"/>
<rect x="629" y="153" width="3" height="8" fill="#fff"/>
<rect x="638" y="140" width="1" height="49"/>
<rect x="636" y="152" width="5" height="18"/>
<rect x="646" y="153" width="1" height="36"/>
<rect x="644" y="157" width="5" height="13"/>
<rect x="645" y="158" width="3" height="11" fill="#fff"/>
<rect x="654" y="137" width="1" height="25"/>
<rect x="652" y="150" width="5" height="8"/>
<rect x="653" y="151" width="3" height="6" fill="#fff"/>
<rect x="662" y="143" width="1" height="27"/>
<rect x="660" y="150" width="5" height="7"/>
<rect x="670" y="157" width="1" height="3"/>
<rect x="668" y="157" width="5" height="2"/>
<rect x="678" y="134" width="1" height="49"/>
<rect x="676" y="157" width="5" height="2"/>
<rect x="686" y="152" width="1" height="18"/>
<rect x="684" y="158" width="5" height="5"/>
<rect x="694" y="162" width="1" height="43"/>
<rect x="692" y="162" width="5" height="36"/>
<rect x="702" y="161" width="1" height="37"/>
<rect x="700" y="164" width="5" height="34"/>
<rect x="701" y="165" width="3" height="32" fill="#fff"/>
<rect x="710" y="149" width="1" height="22"/>
<rect x="708" y="154" width="5" height="11"/>
<rect x="709" y="155" width="3" height="9" fill="#fff"/>
<rect x="718" y="159" width="1" height="4"/>
<rect x="716" y="159" width="5" height="3"/>
<rect x="726" y="148" width="1" height="19"/>
<rect x="724" y="160" width="5" height="2"/>
<rect x="734" y="158" width="1" height="42"/>
<rect x="732" y="160" width="5" height="35"/>
<rect x="742" y="152" width="1" height="43"/>
<rect x="740" y="179" width="5" height="16"/>
<rect x="741" y="180" width="3" height="14" fill="#fff"/>
<rect x="750" y="157" width="1" height="52"/>
<rect x="748" y="179" width="5" height="23"/>
<rect x="758" y="197" width="1" height="28"/>
<rect x="756" y="201" width="5" height="14"/>
<rect x="766" y="219" width="1" height="5"/>
<rect x="764" y="221" width="5" height="1"/>
<rect x="774" y="211" width="1" height="27"/>
<rect x="772" y="219" width="5" height="3"/>
<rect x="773" y="220" width="3" height="1" fill="#fff"/>
<rect x="782" y="204" width="1" height="38"/>
<rect x="780" y="215" width="5" height="5"/>
<rect x="781" y="216" width="3" height="3" fill="#fff"/>
<rect x="790" y="198" width="1" height="24"/>
<rect x="788" y="215" width="5" height="3"/>
<rect x="798" y="212" width="1" height="46"/>
<rect x="796" y="217" width="5" height="34"/>
<rect x="806" y="197" width="1" height="62"/>
<rect x="804" y="213" width="5" height="38"/>
<rect x="805" y="214" width="3" height="36" fill="#fff"/>
<rect x="814" y="215" width="1" height="4"/>
<rect x="812" y="216" width="5" height="2"/>
<rect x="822" y="203" width="1" height="49"/>
<rect x="820" y="217" width="5" height="22"/>
<rect x="830" y="234" width="1" height="59"/>
<rect x="828" y="239" width="5" height="38"/>
<rect x="838" y="274" width="1" height="52"/>
<rect x="836" y="276" width="5" height="43"/>
<rect x="846" y="305" width="1" height="49"/>
<rect x="844" y="315" width="5" height="4"/>
<rect x="845" y="316" width="3" height="2" fill="#fff"/>
<rect x="854" y="252" width="1" height="67"/>
<rect x="852" y="257" width="5" height="59"/>
<rect x="853" y="258" width="3" height="57" fill="#fff"/>
<rect x="862" y="268" width="1" height="8"/>
<rect x="860" y="270" width="5" height="5"/>
<rect x="870" y="255" width="1" height="40"/>
<rect x="868" y="274" width="5" height="14"/>
<rect x="878" y="269" width="1" height="35"/>
<rect x="876" y="275" width="5" height="13"/>
<rect x="877" y="276" width="3" height="11" fill="#fff"/>
<rect x="886" y="266" width="1" height="28"/>
<rect x="884" y="275" width="5" height="15"/>
<rect x="894" y="268" width="1" height="25"/>
<rect x="892" y="272" width="5" height="18"/>
<rect x="893" y="273" width="3" height="16" fill="#fff"/>
<rect x="902" y="265" width="1" height="25"/>
<rect x="900" y="272" width="5" height="1"/>
<rect x="908" y="268" width="5" height="3"/>
<rect x="909" y="269" width="3" height="1" fill="#fff"/>
<rect x="918" y="268" width="1" height="35"/>
<rect x="916" y="268" width="5" height="33"/>
<rect x="926" y="286" width="1" height="43"/>
<rect x="924" y="300" width="5" height="14"/>
<rect x="934" y="290" width="1" height="31"/>
<rect x="932" y="292" width="5" height="22"/>
<rect x="933" y="293" width="3" height="20" fill="#fff"/>
<rect x="942" y="278" width="1" height="19"/>
<rect x="940" y="291" width="5" height="3"/>
<rect x="941" y="292" width="3" height="1" fill="#fff"/>
<rect x="950" y="282" width="1" height="20"/>
<rect x="948" y="291" width="5" height="6"/>
<rect x="956" y="293" width="5" height="3"/>
<rect x="957" y="294" width="3" height="1" fill="#fff"/>
<rect x="966" y="268" width="1" height="48"/>
<rect x="964" y="276" width="5" height="19"/>
<rect x="965" y="277" width="3" height="17" fill="#fff"/>
<rect x="974" y="264" width="1" height="41"/>
<rect x="972" y="276" width="5" height="23"/>
<rect x="982" y="286" width="1" height="28"/>
<rect x="980" y="298" width="5" height="9"/>
<rect x="990" y="302" width="1" height="23"/>
<rect x="988" y="306" width="5" height="2"/>
<rect x="998" y="299" width="1" height="15"/>
<rect x="996" y="307" width="5" height="5"/>
<rect x="1006" y="309" width="1" height="4"/>
<rect x="1004" y="310" width="5" height="2"/>
<rect x="1014" y="311" width="1" height="38"/>
<rect x="1012" y="311" width="5" height="18"/>
<rect x="1022" y="309" width="1" height="26"/>
<rect x="1020" y="325" width="5" height="4"/>
<rect x="1021" y="326" width="3" height="2" fill="#fff"/>
<rect x="1030" y="321" width="1" height="36"/>
<rect x="1028" y="325" width="5" height="25"/>
<rect x="1038" y="333" width="1" height="29"/>
<rect x="1036" y="337" width="5" height="13"/>
<rect x="1037" y="338" width="3" height="11" fill="#fff"/>
<rect x="1046" y="321" width="1" height="28"/>
<rect x="1044" y="330" width="5" height="9"/>
<rect x="1045" y="331" width="3" height="7" fill="#fff"/>
<rect x="1054" y="336" width="1" height="3"/>
<rect x="1052" y="336" width="5" height="2"/>
<rect x="1062" y="318" width="1" height="26"/>
<rect x="1060" y="329" width="5" height="8"/>
<rect x="1061" y="330" width="3" height="6" fill="#fff"/>
<rect x="1070" y="325" width="1" height="26"/>
<rect x="1068" y="329" width="5" height="14"/>
<rect x="1078" y="306" width="1" height="52"/>
<rect x="1076" y="316" width="5" height="27"/>
<rect x="1077" y="317" width="3" height="25" fill="#fff"/>
<rect x="1086" y="301" width="1" height="22"/>
<rect x="1084" y="308" width="5" height="8"/>
<rect x="1085" y="309" width="3" height="6" fill="#fff"/>
<rect x="1094" y="306" width="1" height="45"/>
<rect x="1092" y="308" width="5" height="41"/>
<rect x="1102" y="347" width="1" height="4"/>
<rect x="1100" y="347" width="5" height="2"/>
<rect x="1110" y="333" width="1" height="22"/>
<rect x="1108" y="346" width="5" height="3"/>
<rect x="1109" y="347" width="3" height="1" fill="#fff"/>
<rect x="1118" y="340" width="1" height="45"/>
<rect x="1116" y="347" width="5" height="36"/>
<rect x="1126" y="367" width="1" height="38"/>
<rect x="1124" y="382" width="5" height="16"/>
<rect x="1134" y="397" width="1" height="31"/>
<rect x="1132" y="397" width="5" height="26"/>
<rect x="1142" y="423" width="1" height="22"/>
<rect x="1140" y="423" width="5" height="18"/>
<rect x="1150" y="444" width="1" height="5"/>
<rect x="1148" y="446" width="5" height="2"/>
<rect x="1158" y="435" width="1" height="38"/>
<rect x="1156" y="447" width="5" height="8"/>
<rect x="1166" y="437" width="1" height="28"/>
<rect x="1164" y="455" width="5" height="10"/>
<rect x="1174" y="460" width="1" height="43"/>
<rect x="1172" y="464" width="5" height="32"/>
<rect x="1182" y="481" width="1" height="41"/>
<rect x="1180" y="495" width="5" height="23"/>
<rect x="1190" y="485" width="1" height="51"/>
<rect x="1188" y="488" width="5" height="30"/>
<rect x="1189" y="489" width="3" height="28" fill="#fff"/>
<rect x="1198" y="488" width="1" height="8"/>
<rect x="1196" y="489" width="5" height="4"/>
<rect x="1197" y="490" width="3" height="2" fill="#fff"/>
<rect x="1206" y="430" width="1" height="62"/>
<rect x="1204" y="466" width="5" height="25"/>
<rect x="1205" y="467" width="3" height="23" fill="#fff"/>
<rect x="1214" y="460" width="1" height="36"/>
<rect x="1212" y="466" width="5" height="30"/>
<rect x="1222" y="491" width="1" height="48"/>
<rect x="1220" y="495" width="5" height="27"/>
<rect x="1230" y="495" width="1" height="35"/>
<rect x="1228" y="510" width="5" height="11"/>
<rect x="1229" y="511" width="3" height="9" fill="#fff"/>
<rect x="1238" y="477" width="1" height="36"/>
<rect x="1236" y="491" width="5" height="20"/>
<rect x="1237" y="492" width="3" height="18" fill="#fff"/>
<rect x="1246" y="493" width="1" height="3"/>
<rect x="1244" y="493" width="5" height="2"/>
<rect x="1254" y="462" width="1" height="36"/>
<rect x="1252" y="478" width="5" height="17"/>
<rect x="1253" y="479" width="3" height="15" fill="#fff"/>
<rect x="1262" y="465" width="1" height="43"/>
<rect x="1260" y="466" width="5" height="12"/>
<rect x="1261" y="467" width="3" height="10" fill="#fff"/>
<rect x="1270" y="454" width="1" height="58"/>
<rect x="1268" y="468" width="5" height="33"/>
<rect x="1278" y="497" width="1" height="24"/>
<rect x="1276" y="500" width="5" height="13"/>
<rect x="1286" y="497" width="1" height="17"/>
<rect x="1284" y="512" width="5" height="1"/>
<rect x="1292" y="515" width="5" height="3"/>
<rect x="1302" y="512" width="1" height="27"/>
<rect x="1300" y="517" width="5" height="13"/>
<rect x="1310" y="529" width="1" height="33"/>
<rect x="1308" y="529" width="5" height="23"/>
<rect x="1318" y="479" width="1" height="78"/>
<rect x="1316" y="484" width="5" height="68"/>
<rect x="1317" y="485" width="3" height="66" fill="#fff"/>
<rect x="1326" y="475" width="1" height="53"/>
<rect x="1324" y="486" width="5" height="42"/>
<rect x="1334" y="490" width="1" height="43"/>
<rect x="1332" y="496" width="5" height="31"/>
<rect x="1333" y="497" width="3" height="29" fill="#fff"/>
<rect x="1342" y="498" width="1" height="5"/>
<rect x="1340" y="498" width="5" height="3"/>
<rect x="1341" y="499" width="3" height="1" fill="#fff"/>
<rect x="1350" y="494" width="1" height="31"/>
<rect x="1348" y="499" width="5" height="1"/>
<rect x="1358" y="495" width="1" height="32"/>
<rect x="1356" y="499" width="5" height="22"/>
<rect x="1366" y="498" width="1" height="29"/>
<rect x="1364" y="521" width="5" height="4"/>
<rect x="1374" y="496" width="1" height="51"/>
<rect x="1372" y="514" width="5" height="10"/>
<rect x="1373" y="515" width="3" height="8" fill="#fff"/>
<rect x="1382" y="510" width="1" height="44"/>
<rect x="1380" y="514" width="5" height="27"/>
<rect x="1388" y="542" width="5" height="5"/>
<rect x="1398" y="537" width="1" height="31"/>
<rect x="1396" y="544" width="5" height="3"/>
<rect x="1397" y="545" width="3" height="1" fill="#fff"/>
<rect x="1406" y="509" width="1" height="59"/>
<rect x="1404" y="513" width="5" height="31"/>
<rect x="1405" y="514" width="3" height="29" fill="#fff"/>
<rect x="1414" y="489" width="1" height="26"/>
<rect x="1412" y="502" width="5" height="12"/>
<rect x="1413" y="503" width="3" height="10" fill="#fff"/>
<rect x="1422" y="489" width="1" height="32"/>
<rect x="1420" y="502" width="5" height="13"/>
</g>
</g>
<rect x="0" y="435" width="1691" height="1" fill="#ff0000"/>
<rect x="0" y="461" width="1691" height="1" fill="#ff0000"/>
<rect x="0" y="540" width="1691" height="1" fill="#0000ff"/>
<rect x="0" y="566" width="1691" height="1" fill="#0000ff"/>
</g>
<g id="arrows">
<line x1="1112.6" y1="347.2" x2="1188.8" y2="525.6" stroke="#ff0000" stroke-width="3.2"/><line x1="1188.8" y1="525.6" x2="1180.8" y2="517.3" stroke="#ff0000" stroke-width="3.2"/><line x1="1188.8" y1="525.6" x2="1188.4" y2="514.1" stroke="#ff0000" stroke-width="3.2"/><polygon points="1188.8,525.6 1188.4,514.1 1180.8,517.3" fill="#ff0000"/>
<line x1="1187.8" y1="528.0" x2="1259.6" y2="468.2" stroke="#ff0000" stroke-width="3.2"/><line x1="1259.6" y1="468.2" x2="1254.0" y2="478.2" stroke="#ff0000" stroke-width="3.2"/><line x1="1259.6" y1="468.2" x2="1248.7" y2="471.9" stroke="#ff0000" stroke-width="3.2"/><polygon points="1259.6,468.2 1248.7,471.9 1254.0,478.2" fill="#ff0000"/>
<line x1="1259.8" y1="468.2" x2="1310.3" y2="556.6" stroke="#ff0000" stroke-width="3.2"/><line x1="1310.3" y1="556.6" x2="1301.4" y2="549.3" stroke="#ff0000" stroke-width="3.2"/><line x1="1310.3" y1="556.6" x2="1308.6" y2="545.2" stroke="#ff0000" stroke-width="3.2"/><polygon points="1310.3,556.6 1308.6,545.2 1301.4,549.3" fill="#ff0000"/>
<line x1="1310.4" y1="556.4" x2="1336.5" y2="489.4" stroke="#ff0000" stroke-width="3.2"/><line x1="1336.5" y1="489.4" x2="1336.4" y2="500.9" stroke="#ff0000" stroke-width="3.2"/><line x1="1336.5" y1="489.4" x2="1328.8" y2="497.9" stroke="#ff0000" stroke-width="3.2"/><polygon points="1336.5,489.4 1328.8,497.9 1336.4,500.9" fill="#ff0000"/>
<line x1="1336.5" y1="488.0" x2="1394.6" y2="549.4" stroke="#ff0000" stroke-width="3.2"/><line x1="1394.6" y1="549.4" x2="1384.2" y2="544.4" stroke="#ff0000" stroke-width="3.2"/><line x1="1394.6" y1="549.4" x2="1390.2" y2="538.8" stroke="#ff0000" stroke-width="3.2"/><polygon points="1394.6,549.4 1390.2,538.8 1384.2,544.4" fill="#ff0000"/>
<line x1="1398.6" y1="560.2" x2="1417.2" y2="489.4" stroke="#ff0000" stroke-width="3.2"/><line x1="1417.2" y1="489.4" x2="1418.5" y2="500.8" stroke="#ff0000" stroke-width="3.2"/><line x1="1417.2" y1="489.4" x2="1410.5" y2="498.7" stroke="#ff0000" stroke-width="3.2"/><polygon points="1417.2,489.4 1410.5,498.7 1418.5,500.8" fill="#ff0000"/>
</g>
<rect x="1212" y="480" width="242" height="9" fill="#00ff00" shape-rendering="crispEdges"/>
<g shape-rendering="crispEdges"><rect x="1023" y="483" width="10" height="1" fill="#ff0000"/><rect x="1033" y="472" width="74" height="24" fill="#ff0000"/><rect x="1034" y="473" width="72" height="22" fill="#fff"/></g>
<text x="1035.4" y="491.3" font-size="20.2" fill="#ff0000" textLength="69.6" lengthAdjust="spacingAndGlyphs">0.91469</text>
<text x="1509.5" y="481.8" font-size="19" fill="#00ff00" textLength="115" lengthAdjust="spacing" style="font-family:'Liberation Sans','Noto Sans CJK SC',sans-serif">多空转折点</text>
<g id="frames" shape-rendering="crispEdges" fill="#000">
<rect x="0" y="28" width="1692" height="1"/>
<rect x="0" y="581" width="1692" height="1"/>
<rect x="0" y="583" width="1692" height="1"/>
<rect x="0" y="753" width="1692" height="1"/>
<rect x="0" y="755" width="1692" height="1"/>
<rect x="0" y="929" width="1692" height="1"/>
<rect x="1691" y="28" width="1" height="902"/>
<rect x="1691" y="582" width="1" height="1" fill="#fff"/>
<rect x="1691" y="754" width="1" height="1" fill="#fff"/>
</g>
<g fill="#c0c0c0" shape-rendering="crispEdges"><rect x="1431" y="29" width="9" height="1"/><rect x="1432" y="30" width="7" height="1"/><rect x="1433" y="31" width="5" height="1"/><rect x="1434" y="32" width="3" height="1"/><rect x="1435" y="33" width="1" height="1"/></g>
<g id="paxis">
<rect x="1692" y="50" width="2" height="1" fill="#000" shape-rendering="crispEdges"/>
<text x="1697" y="54.0" font-size="10.2" fill="#000" textLength="32.4" lengthAdjust="spacingAndGlyphs" xml:space="preserve">0.99065</text>
<rect x="1692" y="83" width="2" height="1" fill="#000" shape-rendering="crispEdges"/>
<text x="1697" y="87.0" font-size="10.2" fill="#000" textLength="32.4" lengthAdjust="spacingAndGlyphs" xml:space="preserve">0.98495</text>
<rect x="1692" y="116" width="2" height="1" fill="#000" shape-rendering="crispEdges"/>
<text x="1697" y="120.0" font-size="10.2" fill="#000" textLength="32.4" lengthAdjust="spacingAndGlyphs" xml:space="preserve">0.97910</text>
<rect x="1692" y="149" width="2" height="1" fill="#000" shape-rendering="crispEdges"/>
<text x="1697" y="153.0" font-size="10.2" fill="#000" textLength="32.4" lengthAdjust="spacingAndGlyphs" xml:space="preserve">0.97325</text>
<rect x="1692" y="182" width="2" height="1" fill="#000" shape-rendering="crispEdges"/>
<text x="1697" y="186.0" font-size="10.2" fill="#000" textLength="32.4" lengthAdjust="spacingAndGlyphs" xml:space="preserve">0.96755</text>
<rect x="1692" y="215" width="2" height="1" fill="#000" shape-rendering="crispEdges"/>
<text x="1697" y="219.0" font-size="10.2" fill="#000" textLength="32.4" lengthAdjust="spacingAndGlyphs" xml:space="preserve">0.96170</text>
<rect x="1692" y="248" width="2" height="1" fill="#000" shape-rendering="crispEdges"/>
<text x="1697" y="252.0" font-size="10.2" fill="#000" textLength="32.4" lengthAdjust="spacingAndGlyphs" xml:space="preserve">0.95585</text>
<rect x="1692" y="281" width="2" height="1" fill="#000" shape-rendering="crispEdges"/>
<text x="1697" y="285.0" font-size="10.2" fill="#000" textLength="32.4" lengthAdjust="spacingAndGlyphs" xml:space="preserve">0.95015</text>
<rect x="1692" y="314" width="2" height="1" fill="#000" shape-rendering="crispEdges"/>
<text x="1697" y="318.0" font-size="10.2" fill="#000" textLength="32.4" lengthAdjust="spacingAndGlyphs" xml:space="preserve">0.94430</text>
<rect x="1692" y="347" width="2" height="1" fill="#000" shape-rendering="crispEdges"/>
<text x="1697" y="351.0" font-size="10.2" fill="#000" textLength="32.4" lengthAdjust="spacingAndGlyphs" xml:space="preserve">0.93845</text>
<rect x="1692" y="380" width="2" height="1" fill="#000" shape-rendering="crispEdges"/>
<text x="1697" y="384.0" font-size="10.2" fill="#000" textLength="32.4" lengthAdjust="spacingAndGlyphs" xml:space="preserve">0.93275</text>
<rect x="1692" y="413" width="2" height="1" fill="#000" shape-rendering="crispEdges"/>
<text x="1697" y="417.0" font-size="10.2" fill="#000" textLength="32.4" lengthAdjust="spacingAndGlyphs" xml:space="preserve">0.92690</text>
<rect x="1692" y="446" width="2" height="1" fill="#000" shape-rendering="crispEdges"/>
<text x="1697" y="450.0" font-size="10.2" fill="#000" textLength="32.4" lengthAdjust="spacingAndGlyphs" xml:space="preserve">0.92105</text>
<rect x="1692" y="479" width="2" height="1" fill="#000" shape-rendering="crispEdges"/>
<text x="1697" y="483.0" font-size="10.2" fill="#000" textLength="32.4" lengthAdjust="spacingAndGlyphs" xml:space="preserve">0.91520</text>
<rect x="1692" y="512" width="2" height="1" fill="#000" shape-rendering="crispEdges"/>
<text x="1697" y="516.0" font-size="10.2" fill="#000" textLength="32.4" lengthAdjust="spacingAndGlyphs" xml:space="preserve">0.90935</text>
<rect x="1692" y="545" width="2" height="1" fill="#000" shape-rendering="crispEdges"/>
<text x="1697" y="549.0" font-size="10.2" fill="#000" textLength="32.4" lengthAdjust="spacingAndGlyphs" xml:space="preserve">0.90365</text>
<rect x="1692" y="578" width="2" height="1" fill="#000" shape-rendering="crispEdges"/>
<text x="1697" y="582.0" font-size="10.2" fill="#000" textLength="32.4" lengthAdjust="spacingAndGlyphs" xml:space="preserve">0.89795</text>
<rect x="1693" y="429" width="41" height="11" fill="#ff0000" shape-rendering="crispEdges"/>
<text x="1697" y="438.1" font-size="10.2" fill="#fff" textLength="32.4" lengthAdjust="spacingAndGlyphs" xml:space="preserve">0.92310</text>
<rect x="1693" y="455" width="41" height="11" fill="#ff0000" shape-rendering="crispEdges"/>
<text x="1697" y="464.1" font-size="10.2" fill="#fff" textLength="32.4" lengthAdjust="spacingAndGlyphs" xml:space="preserve">0.91854</text>
<rect x="1693" y="477" width="41" height="11" fill="#ffa500" shape-rendering="crispEdges"/>
<text x="1697" y="486.1" font-size="10.2" fill="#fff" textLength="32.4" lengthAdjust="spacingAndGlyphs" xml:space="preserve">0.91469</text>
<rect x="1693" y="508" width="41" height="11" fill="#000000" shape-rendering="crispEdges"/>
<text x="1697" y="517.1" font-size="10.2" fill="#fff" textLength="32.4" lengthAdjust="spacingAndGlyphs" xml:space="preserve">0.90923</text>
<rect x="1693" y="534" width="41" height="11" fill="#0000ff" shape-rendering="crispEdges"/>
<text x="1697" y="543.1" font-size="10.2" fill="#fff" textLength="32.4" lengthAdjust="spacingAndGlyphs" xml:space="preserve">0.90469</text>
<rect x="1693" y="560" width="41" height="11" fill="#0000ff" shape-rendering="crispEdges"/>
<text x="1697" y="569.1" font-size="10.2" fill="#fff" textLength="32.4" lengthAdjust="spacingAndGlyphs" xml:space="preserve">0.90013</text>
</g>
<g id="macd" shape-rendering="crispEdges" clip-path="url(#cmacd)">
<g fill="#c0c0c0"><rect x="6" y="636" width="1" height="5"/><rect x="14" y="633" width="1" height="8"/><rect x="22" y="632" width="1" height="9"/><rect x="30" y="628" width="1" height="13"/><rect x="38" y="625" width="1" height="16"/><rect x="46" y="621" width="1" height="20"/><rect x="54" y="618" width="1" height="23"/><rect x="62" y="616" width="1" height="25"/><rect x="70" y="613" width="1" height="28"/><rect x="78" y="611" width="1" height="30"/><rect x="86" y="610" width="1" height="31"/><rect x="94" y="614" width="1" height="27"/><rect x="102" y="616" width="1" height="25"/><rect x="110" y="617" width="1" height="24"/><rect x="118" y="623" width="1" height="18"/><rect x="126" y="625" width="1" height="16"/><rect x="134" y="634" width="1" height="7"/><rect x="142" y="640" width="1" height="1"/><rect x="150" y="640" width="1" height="10"/><rect x="158" y="640" width="1" height="21"/><rect x="166" y="640" width="1" height="32"/><rect x="174" y="640" width="1" height="39"/><rect x="182" y="640" width="1" height="52"/><rect x="190" y="640" width="1" height="69"/><rect x="198" y="640" width="1" height="88"/><rect x="206" y="640" width="1" height="102"/><rect x="214" y="640" width="1" height="105"/><rect x="222" y="640" width="1" height="104"/><rect x="230" y="640" width="1" height="99"/><rect x="238" y="640" width="1" height="83"/><rect x="246" y="640" width="1" height="79"/><rect x="254" y="640" width="1" height="74"/><rect x="262" y="640" width="1" height="59"/><rect x="270" y="640" width="1" height="41"/><rect x="278" y="640" width="1" height="10"/><rect x="286" y="626" width="1" height="15"/><rect x="294" y="610" width="1" height="31"/><rect x="302" y="600" width="1" height="41"/><rect x="310" y="594" width="1" height="47"/><rect x="318" y="593" width="1" height="48"/><rect x="326" y="604" width="1" height="37"/><rect x="334" y="620" width="1" height="21"/><rect x="342" y="634" width="1" height="7"/><rect x="350" y="639" width="1" height="2"/><rect x="358" y="640" width="1" height="1"/><rect x="366" y="639" width="1" height="2"/><rect x="374" y="630" width="1" height="11"/><rect x="382" y="624" width="1" height="17"/><rect x="390" y="617" width="1" height="24"/><rect x="398" y="611" width="1" height="30"/><rect x="406" y="614" width="1" height="27"/><rect x="414" y="615" width="1" height="26"/><rect x="422" y="620" width="1" height="21"/><rect x="430" y="624" width="1" height="17"/><rect x="438" y="627" width="1" height="14"/><rect x="446" y="635" width="1" height="6"/><rect x="454" y="637" width="1" height="4"/><rect x="462" y="636" width="1" height="5"/><rect x="470" y="636" width="1" height="5"/><rect x="478" y="636" width="1" height="5"/><rect x="486" y="636" width="1" height="5"/><rect x="494" y="634" width="1" height="7"/><rect x="502" y="631" width="1" height="10"/><rect x="510" y="626" width="1" height="15"/><rect x="518" y="623" width="1" height="18"/><rect x="526" y="622" width="1" height="19"/><rect x="534" y="620" width="1" height="21"/><rect x="542" y="620" width="1" height="21"/><rect x="550" y="620" width="1" height="21"/><rect x="558" y="626" width="1" height="15"/><rect x="566" y="635" width="1" height="6"/><rect x="574" y="640" width="1" height="1"/><rect x="582" y="640" width="1" height="1"/><rect x="590" y="640" width="1" height="1"/><rect x="598" y="635" width="1" height="6"/><rect x="606" y="633" width="1" height="8"/><rect x="614" y="633" width="1" height="8"/><rect x="622" y="634" width="1" height="7"/><rect x="630" y="632" width="1" height="9"/><rect x="638" y="635" width="1" height="6"/><rect x="646" y="634" width="1" height="7"/><rect x="654" y="632" width="1" height="9"/><rect x="662" y="632" width="1" height="9"/><rect x="670" y="633" width="1" height="8"/><rect x="678" y="633" width="1" height="8"/><rect x="686" y="634" width="1" height="7"/><rect x="694" y="639" width="1" height="2"/><rect x="702" y="639" width="1" height="2"/><rect x="710" y="638" width="1" height="3"/><rect x="718" y="638" width="1" height="3"/><rect x="726" y="638" width="1" height="3"/><rect x="734" y="640" width="1" height="1"/><rect x="742" y="640" width="1" height="1"/><rect x="750" y="640" width="1" height="7"/><rect x="758" y="640" width="1" height="11"/><rect x="766" y="640" width="1" height="16"/><rect x="774" y="640" width="1" height="19"/><rect x="782" y="640" width="1" height="21"/><rect x="790" y="640" width="1" height="22"/><rect x="798" y="640" width="1" height="27"/><rect x="806" y="640" width="1" height="26"/><rect x="814" y="640" width="1" height="26"/><rect x="822" y="640" width="1" height="28"/><rect x="830" y="640" width="1" height="34"/><rect x="838" y="640" width="1" height="44"/><rect x="846" y="640" width="1" height="51"/><rect x="854" y="640" width="1" height="49"/><rect x="862" y="640" width="1" height="48"/><rect x="870" y="640" width="1" height="49"/><rect x="878" y="640" width="1" height="47"/><rect x="886" y="640" width="1" height="47"/><rect x="894" y="640" width="1" height="45"/><rect x="902" y="640" width="1" height="42"/><rect x="910" y="640" width="1" height="39"/><rect x="918" y="640" width="1" height="40"/><rect x="926" y="640" width="1" height="43"/><rect x="934" y="640" width="1" height="42"/><rect x="942" y="640" width="1" height="40"/><rect x="950" y="640" width="1" height="39"/><rect x="958" y="640" width="1" height="37"/><rect x="966" y="640" width="1" height="33"/><rect x="974" y="640" width="1" height="32"/><rect x="982" y="640" width="1" height="32"/><rect x="990" y="640" width="1" height="32"/><rect x="998" y="640" width="1" height="33"/><rect x="1006" y="640" width="1" height="33"/><rect x="1014" y="640" width="1" height="34"/><rect x="1022" y="640" width="1" height="36"/><rect x="1030" y="640" width="1" height="38"/><rect x="1038" y="640" width="1" height="38"/><rect x="1046" y="640" width="1" height="37"/><rect x="1054" y="640" width="1" height="36"/><rect x="1062" y="640" width="1" height="36"/><rect x="1070" y="640" width="1" height="36"/><rect x="1078" y="640" width="1" height="31"/><rect x="1086" y="640" width="1" height="27"/><rect x="1094" y="640" width="1" height="29"/><rect x="1102" y="640" width="1" height="29"/><rect x="1110" y="640" width="1" height="29"/><rect x="1118" y="640" width="1" height="33"/><rect x="1126" y="640" width="1" height="39"/><rect x="1134" y="640" width="1" height="46"/><rect x="1142" y="640" width="1" height="54"/><rect x="1150" y="640" width="1" height="60"/><rect x="1158" y="640" width="1" height="65"/><rect x="1166" y="640" width="1" height="69"/><rect x="1174" y="640" width="1" height="76"/><rect x="1182" y="640" width="1" height="84"/><rect x="1190" y="640" width="1" height="85"/><rect x="1198" y="640" width="1" height="85"/><rect x="1206" y="640" width="1" height="81"/><rect x="1214" y="640" width="1" height="81"/><rect x="1222" y="640" width="1" height="83"/><rect x="1230" y="640" width="1" height="81"/><rect x="1238" y="640" width="1" height="78"/><rect x="1246" y="640" width="1" height="75"/><rect x="1254" y="640" width="1" height="69"/><rect x="1262" y="640" width="1" height="62"/><rect x="1270" y="640" width="1" height="61"/><rect x="1278" y="640" width="1" height="60"/><rect x="1286" y="640" width="1" height="59"/><rect x="1294" y="640" width="1" height="59"/><rect x="1302" y="640" width="1" height="59"/><rect x="1310" y="640" width="1" height="62"/><rect x="1318" y="640" width="1" height="54"/><rect x="1326" y="640" width="1" height="53"/><rect x="1334" y="640" width="1" height="47"/><rect x="1342" y="640" width="1" height="43"/><rect x="1350" y="640" width="1" height="39"/><rect x="1358" y="640" width="1" height="38"/><rect x="1366" y="640" width="1" height="38"/><rect x="1374" y="640" width="1" height="36"/><rect x="1382" y="640" width="1" height="37"/><rect x="1390" y="640" width="1" height="39"/><rect x="1398" y="640" width="1" height="39"/><rect x="1406" y="640" width="1" height="36"/><rect x="1414" y="640" width="1" height="30"/><rect x="1422" y="640" width="1" height="27"/></g>
<polyline points="0.0,651.2 10.0,648.8 22.5,645.0 35.0,640.5 47.5,634.5 60.0,628.0 72.5,623.0 85.0,619.5 97.5,616.2 110.0,614.5 120.0,614.5 130.0,616.2 140.0,619.5 150.0,624.5 160.0,632.0 172.5,642.0 182.5,653.0 192.5,663.8 202.5,677.5 212.5,693.8 222.5,707.5 232.5,718.8 242.5,725.0 252.5,728.8 257.5,729.5 265.0,727.0 272.5,721.2 280.0,711.2 287.5,697.5 295.0,682.5 302.5,668.8 310.0,653.8 317.5,641.2 325.0,628.8 333.8,619.5 342.5,614.2 351.2,612.5 360.0,614.5 370.0,619.5 380.0,622.5 390.0,626.2 400.0,627.5 410.0,625.8 420.0,623.0 430.0,620.8 434.0,619.8 444.0,620.0 459.0,622.5 471.5,626.8 484.0,630.5 494.0,633.5 506.5,633.5 519.0,632.5 529.0,629.8 541.5,627.5 551.5,625.0 559.0,624.2 569.0,624.8 584.0,627.2 596.5,630.0 609.0,632.5 624.0,635.5 639.0,635.5 654.0,633.0 669.0,632.5 686.5,632.5 704.0,633.5 721.5,634.5 734.0,636.0 749.0,638.5 759.0,641.2 771.5,644.5 784.0,649.2 796.5,653.8 806.5,657.5 819.0,661.8 831.5,664.8 844.0,669.8 856.5,674.8 868.5,678.8 870.5,679.2 878.0,682.5 888.0,685.5 900.5,687.2 913.0,686.0 928.0,685.0 943.0,683.0 958.0,681.0 973.0,678.8 985.5,678.0 995.5,675.5 1008.0,674.5 1023.0,673.5 1033.0,673.5 1040.5,675.0 1058.0,675.5 1073.0,676.2 1083.0,676.0 1098.0,674.2 1108.0,672.5 1118.0,672.2 1130.5,672.5 1140.5,675.0 1150.5,678.0 1160.5,683.5 1170.5,690.5 1180.5,698.0 1190.5,704.8 1198.0,709.2 1208.0,713.5 1218.0,718.0 1228.0,720.5 1238.0,722.2 1248.0,722.2 1258.0,720.0 1268.0,716.8 1278.0,713.0 1288.0,710.5 1298.0,706.8 1302.0,706.0 1312.0,703.0 1322.0,700.0 1334.5,697.5 1349.5,694.2 1359.5,690.5 1369.5,687.5 1377.0,684.2 1387.0,682.5 1399.5,679.8 1409.5,678.0 1420.8,676.5" fill="none" stroke="#ff0000" stroke-width="1" stroke-dasharray="3 3"/>
</g>
<text x="2" y="596.2" font-size="10.2" fill="#000" textLength="154.0" lengthAdjust="spacingAndGlyphs" xml:space="preserve">MACD(12,26,9) -0.002807 -0.003701</text>
<rect x="1692" y="585" width="1" height="1" fill="#000" shape-rendering="crispEdges"/>
<rect x="1692" y="640" width="1" height="1" fill="#000" shape-rendering="crispEdges"/>
<rect x="1692" y="752" width="1" height="1" fill="#000" shape-rendering="crispEdges"/>
<rect x="1692" y="757" width="1" height="1" fill="#000" shape-rendering="crispEdges"/>
<text x="1694.8" y="593.9" font-size="10.2" fill="#000" textLength="37.8" lengthAdjust="spacingAndGlyphs" xml:space="preserve">0.005744</text>
<text x="1694.8" y="643.9" font-size="10.2" fill="#000" textLength="17.3" lengthAdjust="spacingAndGlyphs" xml:space="preserve">0.00</text>
<text x="1694.6" y="749.9" font-size="10.2" fill="#000" textLength="41.0" lengthAdjust="spacingAndGlyphs" xml:space="preserve">-0.011738</text>
<g id="rsi" shape-rendering="crispEdges" clip-path="url(#crsi)">
<line x1="-1" y1="791.5" x2="1691" y2="791.5" stroke="#c0c0c0" stroke-width="1" stroke-dasharray="3 3"/>
<line x1="-1" y1="842.5" x2="1691" y2="842.5" stroke="#c0c0c0" stroke-width="1" stroke-dasharray="3 3"/>
<line x1="-1" y1="903.5" x2="1691" y2="903.5" stroke="#c0c0c0" stroke-width="1" stroke-dasharray="3 3"/>
<polyline points="-1.5,823.8 6.5,826.5 14.5,824.5 22.5,830.5 30.5,825.8 38.5,821.2 46.5,815.8 54.5,815.8 62.5,820.5 70.5,815.0 78.5,813.8 86.5,812.5 94.5,838.8 102.5,835.8 110.5,832.5 118.5,845.5 126.5,844.5 134.5,865.0 142.5,871.2 150.5,875.0 158.5,883.2 166.5,886.8 174.5,883.8 182.5,894.5 190.5,901.2 198.5,906.8 206.5,903.8 214.5,880.0 222.5,876.2 230.5,865.0 238.5,845.8 246.5,856.8 254.5,855.5 262.5,838.8 270.5,829.2 278.5,812.5 286.5,812.5 294.5,817.5 302.5,822.0 310.5,824.2 318.5,829.5 326.5,847.5 334.5,855.5 342.5,858.2 350.5,847.5 358.5,845.5 366.5,840.0 374.5,831.8 382.5,830.5 390.5,829.5 398.5,828.5 406.5,840.8 414.5,837.5 422.5,844.2 430.5,844.2 438.5,843.2 446.5,852.5 454.5,845.5 462.5,839.5 470.5,842.5 478.5,841.5 486.5,841.8 494.5,838.2 502.5,833.2 510.5,828.5 518.5,830.5 526.5,834.2 534.5,830.0 542.5,834.2 550.5,834.5 558.5,849.2 566.5,857.5 574.5,856.8 582.5,850.0 590.5,835.0 598.5,831.2 606.5,836.2 614.5,840.8 622.5,839.5 630.5,836.2 638.5,843.2 646.5,838.0 654.5,836.2 662.5,838.2 670.5,839.5 678.5,839.5 686.5,841.8 694.5,857.5 702.5,842.5 710.5,838.2 718.5,841.8 726.5,840.5 734.5,854.2 742.5,848.8 750.5,856.2 758.5,860.5 766.5,863.8 774.5,861.8 782.5,859.5 790.5,860.5 798.5,872.5 806.5,852.5 814.5,853.8 822.5,861.8 830.5,872.5 838.5,881.8 846.5,880.5 854.5,854.5 862.5,859.2 870.5,862.5 878.5,857.5 886.5,861.8 894.5,854.5 902.5,854.5 910.5,853.2 918.5,862.0 926.5,866.5 934.5,857.5 942.5,856.5 950.5,858.5 958.5,857.5 966.5,848.8 974.5,856.2 982.5,859.5 990.5,860.5 998.5,861.5 1006.5,861.5 1014.5,868.8 1022.5,865.5 1030.5,874.5 1038.5,866.2 1046.5,862.5 1054.5,864.2 1062.5,859.5 1070.5,865.0 1078.5,849.5 1086.5,845.5 1094.5,862.5 1102.5,862.5 1110.5,860.5 1118.5,872.5 1126.5,877.5 1134.5,883.2 1142.5,887.5 1150.5,888.8 1158.5,890.5 1166.5,892.0 1174.5,897.5 1182.5,900.5 1190.5,882.5 1198.5,882.5 1206.5,869.5 1214.5,876.8 1222.5,882.5 1230.5,876.2 1238.5,867.5 1246.5,868.8 1254.5,860.0 1262.5,855.5 1270.5,865.0 1278.5,868.8 1286.5,869.5 1294.5,870.5 1302.5,873.8 1310.5,879.2 1318.5,847.5 1326.5,860.5 1334.5,849.5 1342.5,850.5 1350.5,850.5 1358.5,856.2 1366.5,857.5 1374.5,853.2 1382.5,861.2 1390.5,863.5 1398.5,862.5 1406.5,848.2 1414.5,844.0 1422.5,847.8" fill="none" stroke="#1e90ff" stroke-width="1"/>
</g>
<text x="2" y="768.2" font-size="10.2" fill="#000" textLength="68.0" lengthAdjust="spacingAndGlyphs" xml:space="preserve">RSI(14) 46.7516</text>
<text x="1695.0" y="765.9" font-size="10.2" fill="#000" textLength="14.9" lengthAdjust="spacingAndGlyphs" xml:space="preserve">100</text>
<text x="1693.9" y="794.9" font-size="10.2" fill="#000" textLength="9.9" lengthAdjust="spacingAndGlyphs" xml:space="preserve">80</text>
<text x="1693.9" y="845.9" font-size="10.2" fill="#000" textLength="9.9" lengthAdjust="spacingAndGlyphs" xml:space="preserve">50</text>
<text x="1695.0" y="906.9" font-size="10.2" fill="#000" textLength="9.9" lengthAdjust="spacingAndGlyphs" xml:space="preserve">15</text>
<text x="1693.9" y="925.9" font-size="10.2" fill="#000" textLength="5.0" lengthAdjust="spacingAndGlyphs" xml:space="preserve">0</text>
<g id="dates">
<rect x="-2" y="930" width="1" height="3" fill="#000" shape-rendering="crispEdges"/>
<text x="-2.6" y="942.2" font-size="10.2" fill="#000" textLength="45.9" lengthAdjust="spacingAndGlyphs" xml:space="preserve">7 Feb 2020</text>
<rect x="62" y="930" width="1" height="3" fill="#000" shape-rendering="crispEdges"/>
<text x="61.4" y="942.2" font-size="10.2" fill="#000" textLength="51.0" lengthAdjust="spacingAndGlyphs" xml:space="preserve">17 Feb 2020</text>
<rect x="126" y="930" width="1" height="3" fill="#000" shape-rendering="crispEdges"/>
<text x="125.4" y="942.2" font-size="10.2" fill="#000" textLength="51.0" lengthAdjust="spacingAndGlyphs" xml:space="preserve">26 Feb 2020</text>
<rect x="190" y="930" width="1" height="3" fill="#000" shape-rendering="crispEdges"/>
<text x="189.4" y="942.2" font-size="10.2" fill="#000" textLength="45.9" lengthAdjust="spacingAndGlyphs" xml:space="preserve">6 Mar 2020</text>
<rect x="254" y="930" width="1" height="3" fill="#000" shape-rendering="crispEdges"/>
<text x="253.4" y="942.2" font-size="10.2" fill="#000" textLength="51.0" lengthAdjust="spacingAndGlyphs" xml:space="preserve">16 Mar 2020</text>
<rect x="318" y="930" width="1" height="3" fill="#000" shape-rendering="crispEdges"/>
<text x="317.4" y="942.2" font-size="10.2" fill="#000" textLength="51.0" lengthAdjust="spacingAndGlyphs" xml:space="preserve">25 Mar 2020</text>
<rect x="382" y="930" width="1" height="3" fill="#000" shape-rendering="crispEdges"/>
<text x="381.4" y="942.2" font-size="10.2" fill="#000" textLength="44.4" lengthAdjust="spacingAndGlyphs" xml:space="preserve">3 Apr 2020</text>
<rect x="446" y="930" width="1" height="3" fill="#000" shape-rendering="crispEdges"/>
<text x="445.4" y="942.2" font-size="10.2" fill="#000" textLength="49.5" lengthAdjust="spacingAndGlyphs" xml:space="preserve">14 Apr 2020</text>
<rect x="510" y="930" width="1" height="3" fill="#000" shape-rendering="crispEdges"/>
<text x="509.4" y="942.2" font-size="10.2" fill="#000" textLength="49.5" lengthAdjust="spacingAndGlyphs" xml:space="preserve">23 Apr 2020</text>
<rect x="574" y="930" width="1" height="3" fill="#000" shape-rendering="crispEdges"/>
<text x="573.4" y="942.2" font-size="10.2" fill="#000" textLength="47.5" lengthAdjust="spacingAndGlyphs" xml:space="preserve">3 May 2020</text>
<rect x="638" y="930" width="1" height="3" fill="#000" shape-rendering="crispEdges"/>
<text x="637.4" y="942.2" font-size="10.2" fill="#000" textLength="52.5" lengthAdjust="spacingAndGlyphs" xml:space="preserve">12 May 2020</text>
<rect x="702" y="930" width="1" height="3" fill="#000" shape-rendering="crispEdges"/>
<text x="701.4" y="942.2" font-size="10.2" fill="#000" textLength="52.5" lengthAdjust="spacingAndGlyphs" xml:space="preserve">21 May 2020</text>
<rect x="766" y="930" width="1" height="3" fill="#000" shape-rendering="crispEdges"/>
<text x="765.4" y="942.2" font-size="10.2" fill="#000" textLength="52.5" lengthAdjust="spacingAndGlyphs" xml:space="preserve">31 May 2020</text>
<rect x="830" y="930" width="1" height="3" fill="#000" shape-rendering="crispEdges"/>
<text x="829.4" y="942.2" font-size="10.2" fill="#000" textLength="44.9" lengthAdjust="spacingAndGlyphs" xml:space="preserve">9 Jun 2020</text>
<rect x="894" y="930" width="1" height="3" fill="#000" shape-rendering="crispEdges"/>
<text x="893.4" y="942.2" font-size="10.2" fill="#000" textLength="50.0" lengthAdjust="spacingAndGlyphs" xml:space="preserve">18 Jun 2020</text>
<rect x="958" y="930" width="1" height="3" fill="#000" shape-rendering="crispEdges"/>
<text x="957.4" y="942.2" font-size="10.2" fill="#000" textLength="50.0" lengthAdjust="spacingAndGlyphs" xml:space="preserve">28 Jun 2020</text>
<rect x="1022" y="930" width="1" height="3" fill="#000" shape-rendering="crispEdges"/>
<text x="1021.4" y="942.2" font-size="10.2" fill="#000" textLength="41.9" lengthAdjust="spacingAndGlyphs" xml:space="preserve">7 Jul 2020</text>
<rect x="1086" y="930" width="1" height="3" fill="#000" shape-rendering="crispEdges"/>
<text x="1085.4" y="942.2" font-size="10.2" fill="#000" textLength="47.0" lengthAdjust="spacingAndGlyphs" xml:space="preserve">16 Jul 2020</text>
<rect x="1150" y="930" width="1" height="3" fill="#000" shape-rendering="crispEdges"/>
<text x="1149.4" y="942.2" font-size="10.2" fill="#000" textLength="47.0" lengthAdjust="spacingAndGlyphs" xml:space="preserve">26 Jul 2020</text>
<rect x="1214" y="930" width="1" height="3" fill="#000" shape-rendering="crispEdges"/>
<text x="1213.4" y="942.2" font-size="10.2" fill="#000" textLength="46.5" lengthAdjust="spacingAndGlyphs" xml:space="preserve">4 Aug 2020</text>
<rect x="1278" y="930" width="1" height="3" fill="#000" shape-rendering="crispEdges"/>
<text x="1277.4" y="942.2" font-size="10.2" fill="#000" textLength="51.5" lengthAdjust="spacingAndGlyphs" xml:space="preserve">13 Aug 2020</text>
<rect x="1342" y="930" width="1" height="3" fill="#000" shape-rendering="crispEdges"/>
<text x="1341.4" y="942.2" font-size="10.2" fill="#000" textLength="51.5" lengthAdjust="spacingAndGlyphs" xml:space="preserve">23 Aug 2020</text>
<rect x="1406" y="930" width="1" height="3" fill="#000" shape-rendering="crispEdges"/>
<text x="1405.4" y="942.2" font-size="10.2" fill="#000" textLength="46.5" lengthAdjust="spacingAndGlyphs" xml:space="preserve">1 Sep 2020</text>
</g>
<polygon points="1,39.5 8,39.5 4.5,35.5" fill="#000"/>
<text x="13" y="40" font-size="10.2" fill="#000" textLength="67.6" lengthAdjust="spacingAndGlyphs" xml:space="preserve">USDCHF-,Daily</text>
<text x="87.5" y="40" font-size="10.2" fill="#000" textLength="140.5" lengthAdjust="spacingAndGlyphs" xml:space="preserve">0.91128 0.91412 0.90817 0.90923</text>
<g id="panel">
<rect x="0" y="46" width="222" height="68" fill="#fff"/>
<rect x="53" y="48" width="115" height="24" fill="#f0f0f0"/>
<g shape-rendering="crispEdges">
<clipPath id="cpanel"><rect x="1" y="48" width="52" height="24"/><rect x="168" y="48" width="52" height="24"/><rect x="1" y="72" width="109" height="40"/><rect x="112" y="72" width="108" height="40"/></clipPath>
<rect x="1" y="48" width="219" height="64" fill="url(#gred)" clip-path="url(#cpanel)"/>
<rect x="1" y="48" width="52" height="1" fill="#b81414"/><rect x="168" y="48" width="52" height="1" fill="#b81414"/>
<rect x="1" y="48" width="1" height="64" fill="#b81414"/><rect x="219" y="48" width="1" height="64" fill="#a00c0c"/>
<rect x="52" y="48" width="1" height="24" fill="#b81414"/><rect x="168" y="48" width="1" height="24" fill="#b81414"/>
<rect x="53" y="72" width="57" height="1" fill="#b81414"/><rect x="112" y="72" width="56" height="1" fill="#b81414"/>
<rect x="109" y="72" width="1" height="40" fill="#a00c0c"/><rect x="112" y="72" width="1" height="40" fill="#b81414"/>
<rect x="1" y="111" width="109" height="1" fill="#960000"/><rect x="112" y="111" width="108" height="1" fill="#960000"/>
<rect x="5" y="71" width="44" height="1" fill="#a81414"/><rect x="5" y="72" width="44" height="1" fill="#f07878"/>
<rect x="172" y="71" width="44" height="1" fill="#a81414"/><rect x="172" y="72" width="44" height="1" fill="#f07878"/>
<rect x="55" y="48" width="111" height="22" fill="#a4a8b0"/><rect x="56" y="49" width="109" height="20" fill="#fff"/>
<rect x="57" y="50" width="19" height="7" fill="#efefef"/><rect x="57" y="57" width="19" height="11" fill="url(#gbtn)"/><rect x="76" y="49" width="1" height="20" fill="#a4a8b0"/>
<rect x="146" y="50" width="19" height="7" fill="#efefef"/><rect x="146" y="57" width="19" height="11" fill="url(#gbtn)"/><rect x="145" y="49" width="1" height="20" fill="#a4a8b0"/>
</g>
<polygon points="63,57 68.6,57 65.8,60.2" fill="#4454c0"/><polygon points="152.2,60.2 157.6,60.2 154.9,57" fill="#4454c0"/>
<text x="117.2" y="62.9" font-size="12.1" fill="#000" textLength="24" lengthAdjust="spacingAndGlyphs">1.00</text>
<text x="13.2" y="64.2" font-size="12.6" fill="#fff" textLength="25.6" lengthAdjust="spacingAndGlyphs">SELL</text>
<text x="181.4" y="64.2" font-size="12.6" fill="#fff" textLength="23.6" lengthAdjust="spacingAndGlyphs">BUY</text>
<text x="20.6" y="102.9" font-size="11.8" font-weight="bold" fill="#fff" textLength="24.4" lengthAdjust="spacingAndGlyphs">0.90</text>
<text x="48.6" y="102.9" font-size="34" fill="#fff" textLength="34.6" lengthAdjust="spacingAndGlyphs">92</text>
<text x="88.2" y="87" font-size="12.2" font-weight="bold" fill="#fff" textLength="6.8" lengthAdjust="spacingAndGlyphs">3</text>
<text x="130.6" y="102.9" font-size="11.8" font-weight="bold" fill="#fff" textLength="24.4" lengthAdjust="spacingAndGlyphs">0.90</text>
<text x="159.6" y="102.9" font-size="34" fill="#fff" textLength="35" lengthAdjust="spacingAndGlyphs">96</text>
<text x="198.6" y="87" font-size="12.2" font-weight="bold" fill="#fff" textLength="6.8" lengthAdjust="spacingAndGlyphs">1</text>
</g>
</svg>
</body></html>
